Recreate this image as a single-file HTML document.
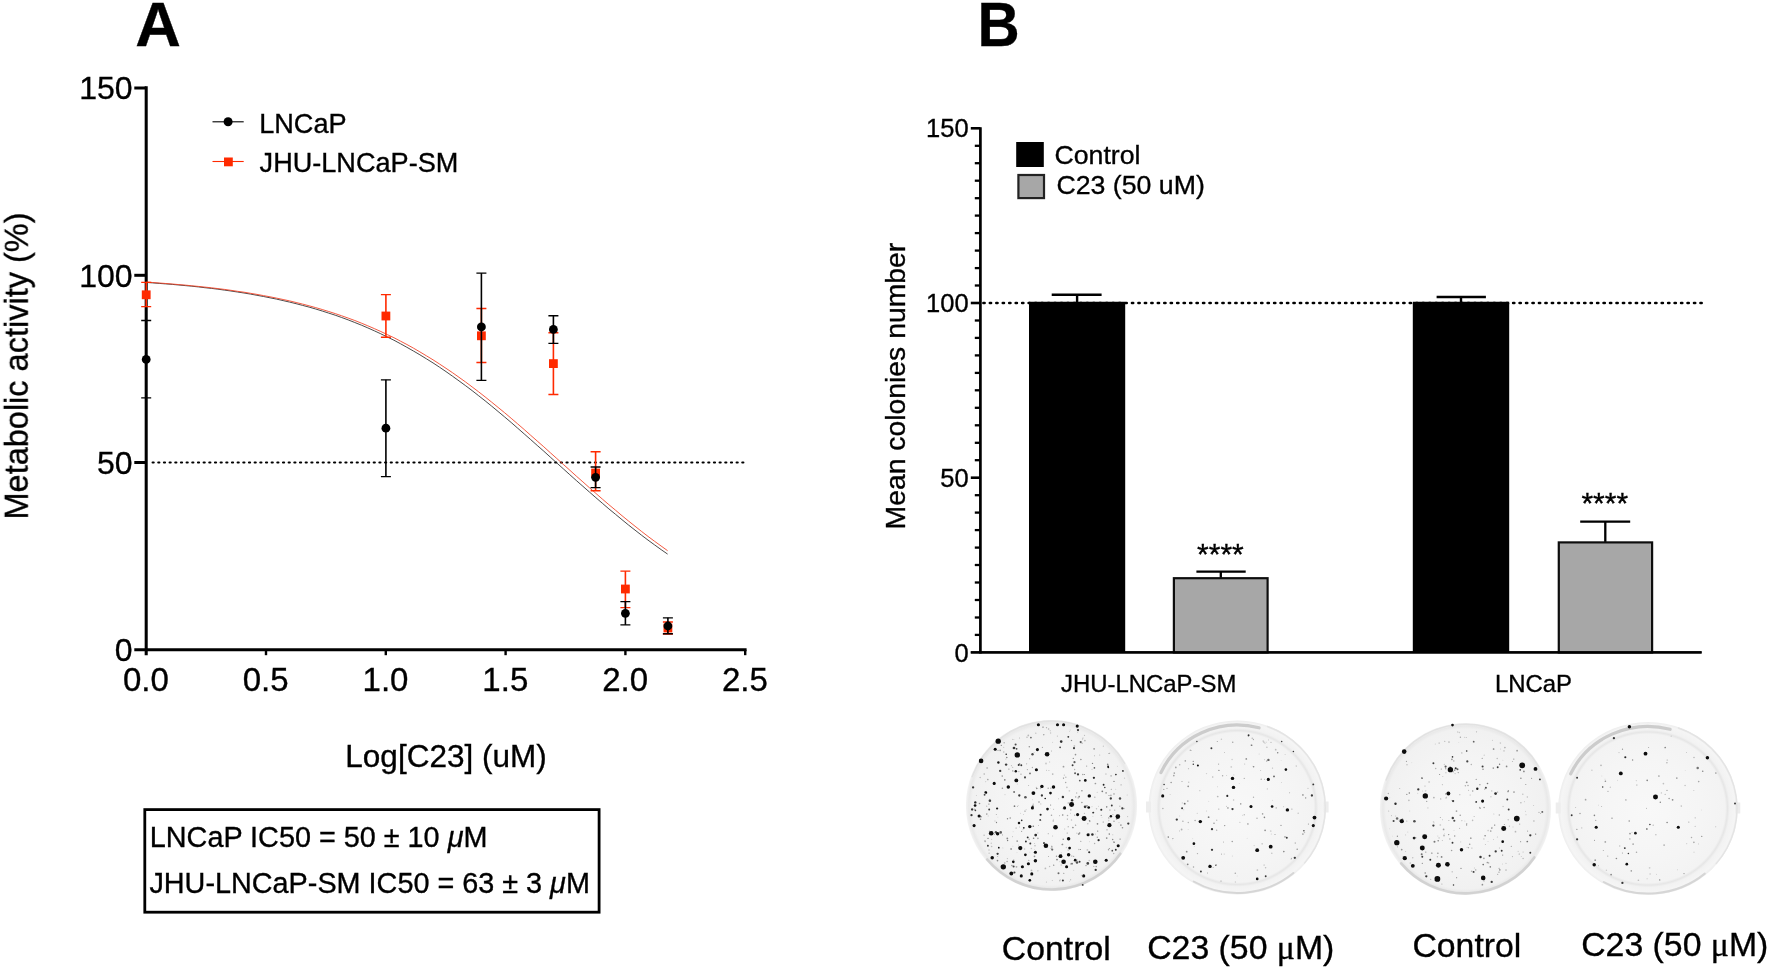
<!DOCTYPE html>
<html lang="en"><head><meta charset="utf-8"><title>Figure</title>
<style>html,body{margin:0;padding:0;background:#fff;}svg{display:block}text{fill:#000;stroke:#000;stroke-width:0.35px}</style></head>
<body>
<svg width="1770" height="970" viewBox="0 0 1770 970">
<rect width="1770" height="970" fill="#fff"/>
<g filter="url(#soft)">
<text x="135.3" y="46.3" font-size="63.2" font-weight="bold" stroke="#000" stroke-width="1" font-family="Liberation Sans, Arial, Helvetica, sans-serif">A</text>
<text transform="translate(977.6,46.3) scale(0.925,1)" font-size="63.2" font-weight="bold" stroke="#000" stroke-width="1" font-family="Liberation Sans, Arial, Helvetica, sans-serif">B</text>
<path d="M146.2 86.3 V655.2" stroke="#000" stroke-width="3.05" fill="none"/>
<path d="M134.3 649.8 H746.6" stroke="#000" stroke-width="3.0" fill="none"/>
<path d="M134.3 462.5 H146.2" stroke="#000" stroke-width="3.0"/>
<path d="M134.3 275.3 H146.2" stroke="#000" stroke-width="3.0"/>
<path d="M134.3 88.0 H146.2" stroke="#000" stroke-width="3.0"/>
<path d="M266.0 649.8 V655.2" stroke="#000" stroke-width="2.4"/>
<path d="M385.8 649.8 V655.2" stroke="#000" stroke-width="2.4"/>
<path d="M505.6 649.8 V655.2" stroke="#000" stroke-width="2.4"/>
<path d="M625.4 649.8 V655.2" stroke="#000" stroke-width="2.4"/>
<path d="M745.2 649.8 V655.2" stroke="#000" stroke-width="2.4"/>
<text x="132.6" y="661.2" font-size="32" text-anchor="end" font-family="Liberation Sans, Arial, Helvetica, sans-serif">0</text>
<text x="132.6" y="473.9" font-size="32" text-anchor="end" font-family="Liberation Sans, Arial, Helvetica, sans-serif">50</text>
<text x="132.6" y="286.7" font-size="32" text-anchor="end" font-family="Liberation Sans, Arial, Helvetica, sans-serif">100</text>
<text x="132.6" y="99.4" font-size="32" text-anchor="end" font-family="Liberation Sans, Arial, Helvetica, sans-serif">150</text>
<text x="145.9" y="691.0" font-size="33" text-anchor="middle" font-family="Liberation Sans, Arial, Helvetica, sans-serif">0.0</text>
<text x="265.7" y="691.0" font-size="33" text-anchor="middle" font-family="Liberation Sans, Arial, Helvetica, sans-serif">0.5</text>
<text x="385.5" y="691.0" font-size="33" text-anchor="middle" font-family="Liberation Sans, Arial, Helvetica, sans-serif">1.0</text>
<text x="505.3" y="691.0" font-size="33" text-anchor="middle" font-family="Liberation Sans, Arial, Helvetica, sans-serif">1.5</text>
<text x="625.1" y="691.0" font-size="33" text-anchor="middle" font-family="Liberation Sans, Arial, Helvetica, sans-serif">2.0</text>
<text x="744.9" y="691.0" font-size="33" text-anchor="middle" font-family="Liberation Sans, Arial, Helvetica, sans-serif">2.5</text>
<text transform="translate(27.8,366) rotate(-90)" font-size="32.5" text-anchor="middle" font-family="Liberation Sans, Arial, Helvetica, sans-serif">Metabolic activity (%)</text>
<text x="446" y="766.6" font-size="31.5" text-anchor="middle" font-family="Liberation Sans, Arial, Helvetica, sans-serif">Log[C23] (uM)</text>
<path d="M149.2 462.5 H746" stroke="#000" stroke-width="2.15" stroke-dasharray="1.1 4.57" stroke-dashoffset="-3.4" stroke-linecap="round" fill="none"/>
<path d="M146.2 282.4 L152.7 282.9 L159.2 283.4 L165.8 283.9 L172.3 284.4 L178.8 285.0 L185.3 285.6 L191.8 286.2 L198.3 286.9 L204.9 287.7 L211.4 288.4 L217.9 289.2 L224.4 290.1 L230.9 291.0 L237.4 292.0 L244.0 293.0 L250.5 294.1 L257.0 295.3 L263.5 296.5 L270.0 297.8 L276.5 299.1 L283.1 300.6 L289.6 302.1 L296.1 303.7 L302.6 305.4 L309.1 307.1 L315.7 309.0 L322.2 311.0 L328.7 313.1 L335.2 315.2 L341.7 317.5 L348.2 319.9 L354.8 322.5 L361.3 325.1 L367.8 327.9 L374.3 330.8 L380.8 333.8 L387.3 337.0 L393.9 340.2 L400.4 343.7 L406.9 347.3 L413.4 351.0 L419.9 354.8 L426.4 358.8 L433.0 362.9 L439.5 367.2 L446.0 371.6 L452.5 376.2 L459.0 380.9 L465.6 385.7 L472.1 390.6 L478.6 395.7 L485.1 400.8 L491.6 406.1 L498.1 411.5 L504.7 417.0 L511.2 422.5 L517.7 428.2 L524.2 433.9 L530.7 439.6 L537.2 445.4 L543.8 451.2 L550.3 457.1 L556.8 463.0 L563.3 468.8 L569.8 474.7 L576.3 480.5 L582.9 486.3 L589.4 492.0 L595.9 497.7 L602.4 503.3 L608.9 508.9 L615.5 514.3 L622.0 519.7 L628.5 525.0 L635.0 530.1 L641.5 535.2 L648.0 540.1 L654.6 544.9 L661.1 549.6 L667.6 554.1" stroke="#2a2a2a" stroke-width="0.85" fill="none"/>
<path d="M146.2 282.1 L152.7 282.5 L159.2 283.0 L165.8 283.5 L172.3 284.0 L178.8 284.6 L185.3 285.1 L191.8 285.8 L198.3 286.4 L204.9 287.1 L211.4 287.8 L217.9 288.6 L224.4 289.4 L230.9 290.3 L237.4 291.3 L244.0 292.2 L250.5 293.3 L257.0 294.4 L263.5 295.6 L270.0 296.8 L276.5 298.1 L283.1 299.5 L289.6 300.9 L296.1 302.5 L302.6 304.1 L309.1 305.8 L315.7 307.6 L322.2 309.5 L328.7 311.5 L335.2 313.6 L341.7 315.8 L348.2 318.1 L354.8 320.5 L361.3 323.1 L367.8 325.8 L374.3 328.6 L380.8 331.5 L387.3 334.6 L393.9 337.7 L400.4 341.1 L406.9 344.5 L413.4 348.1 L419.9 351.9 L426.4 355.8 L433.0 359.8 L439.5 364.0 L446.0 368.3 L452.5 372.7 L459.0 377.3 L465.6 382.0 L472.1 386.9 L478.6 391.8 L485.1 396.9 L491.6 402.1 L498.1 407.4 L504.7 412.8 L511.2 418.3 L517.7 423.9 L524.2 429.5 L530.7 435.3 L537.2 441.0 L543.8 446.8 L550.3 452.7 L556.8 458.5 L563.3 464.4 L569.8 470.2 L576.3 476.1 L582.9 481.9 L589.4 487.7 L595.9 493.4 L602.4 499.1 L608.9 504.7 L615.5 510.2 L622.0 515.7 L628.5 521.0 L635.0 526.2 L641.5 531.4 L648.0 536.4 L654.6 541.3 L661.1 546.0 L667.6 550.7" stroke="#f23c20" stroke-width="0.85" fill="none"/>
<path d="M146.2 282.3 V306.6" stroke="#ff2a00" stroke-width="1.6" fill="none"/><path d="M141.2 282.3 H151.2 M141.2 306.6 H151.2" stroke="#ff2a00" stroke-width="1.35" fill="none"/>
<rect x="141.8" y="290.4" width="8.8" height="8.8" fill="#ff2a00"/>
<path d="M385.9 294.6 V337.2" stroke="#ff2a00" stroke-width="1.6" fill="none"/><path d="M380.9 294.6 H390.9 M380.9 337.2 H390.9" stroke="#ff2a00" stroke-width="1.35" fill="none"/>
<rect x="381.5" y="311.6" width="8.8" height="8.8" fill="#ff2a00"/>
<path d="M481.4 308.5 V362.5" stroke="#ff2a00" stroke-width="1.6" fill="none"/><path d="M476.4 308.5 H486.4 M476.4 362.5 H486.4" stroke="#ff2a00" stroke-width="1.35" fill="none"/>
<rect x="477.0" y="331.4" width="8.8" height="8.8" fill="#ff2a00"/>
<path d="M553.4 332.7 V394.5" stroke="#ff2a00" stroke-width="1.6" fill="none"/><path d="M548.4 332.7 H558.4 M548.4 394.5 H558.4" stroke="#ff2a00" stroke-width="1.35" fill="none"/>
<rect x="549.0" y="359.2" width="8.8" height="8.8" fill="#ff2a00"/>
<path d="M595.6 451.7 V490.7" stroke="#ff2a00" stroke-width="1.6" fill="none"/><path d="M590.6 451.7 H600.6 M590.6 490.7 H600.6" stroke="#ff2a00" stroke-width="1.35" fill="none"/>
<rect x="591.2" y="468.6" width="8.8" height="8.8" fill="#ff2a00"/>
<path d="M625.4 571.1 V607.6" stroke="#ff2a00" stroke-width="1.6" fill="none"/><path d="M620.4 571.1 H630.4 M620.4 607.6 H630.4" stroke="#ff2a00" stroke-width="1.35" fill="none"/>
<rect x="621.0" y="584.6" width="8.8" height="8.8" fill="#ff2a00"/>
<path d="M667.9 622.0 V634.0" stroke="#ff2a00" stroke-width="1.6" fill="none"/><path d="M662.9 622.0 H672.9 M662.9 634.0 H672.9" stroke="#ff2a00" stroke-width="1.35" fill="none"/>
<rect x="663.5" y="623.6" width="8.8" height="8.8" fill="#ff2a00"/>
<path d="M146.2 320.5 V397.9" stroke="#000" stroke-width="1.6" fill="none"/><path d="M141.2 320.5 H151.2 M141.2 397.9 H151.2" stroke="#000" stroke-width="1.35" fill="none"/>
<circle cx="146.2" cy="359.4" r="4.4" fill="#000"/>
<path d="M385.9 379.8 V476.6" stroke="#000" stroke-width="1.6" fill="none"/><path d="M380.9 379.8 H390.9 M380.9 476.6 H390.9" stroke="#000" stroke-width="1.35" fill="none"/>
<circle cx="385.9" cy="428.2" r="4.4" fill="#000"/>
<path d="M481.4 273.1 V380.3" stroke="#000" stroke-width="1.6" fill="none"/><path d="M476.4 273.1 H486.4 M476.4 380.3 H486.4" stroke="#000" stroke-width="1.35" fill="none"/>
<circle cx="481.4" cy="326.9" r="4.4" fill="#000"/>
<path d="M553.4 315.7 V343.3" stroke="#000" stroke-width="1.6" fill="none"/><path d="M548.4 315.7 H558.4 M548.4 343.3 H558.4" stroke="#000" stroke-width="1.35" fill="none"/>
<circle cx="553.4" cy="329.4" r="4.4" fill="#000"/>
<path d="M595.6 467.0 V487.6" stroke="#000" stroke-width="1.6" fill="none"/><path d="M590.6 467.0 H600.6 M590.6 487.6 H600.6" stroke="#000" stroke-width="1.35" fill="none"/>
<circle cx="595.6" cy="477.3" r="4.4" fill="#000"/>
<path d="M625.4 601.6 V624.9" stroke="#000" stroke-width="1.6" fill="none"/><path d="M620.4 601.6 H630.4 M620.4 624.9 H630.4" stroke="#000" stroke-width="1.35" fill="none"/>
<circle cx="625.4" cy="613.3" r="4.4" fill="#000"/>
<path d="M667.9 617.8 V633.7" stroke="#000" stroke-width="1.6" fill="none"/><path d="M662.9 617.8 H672.9 M662.9 633.7 H672.9" stroke="#000" stroke-width="1.35" fill="none"/>
<circle cx="667.9" cy="626.0" r="4.4" fill="#000"/>
<path d="M212.5 121.8 H243.7" stroke="#000" stroke-width="1.1"/><circle cx="228.1" cy="121.8" r="4.5" fill="#000"/>
<path d="M212.5 161.5 H243.7" stroke="#ff2a00" stroke-width="1.1"/><rect x="224" y="157.5" width="8.8" height="8.8" fill="#ff2a00"/>
<text x="259.2" y="132.9" font-size="27.1" font-family="Liberation Sans, Arial, Helvetica, sans-serif">LNCaP</text>
<text x="259.6" y="172.2" font-size="27.1" font-family="Liberation Sans, Arial, Helvetica, sans-serif">JHU-LNCaP-SM</text>
<rect x="144.8" y="809.6" width="454.3" height="102.6" fill="none" stroke="#000" stroke-width="2.8"/>
<text x="149.8" y="847.4" font-size="28.8" font-family="Liberation Sans, Arial, Helvetica, sans-serif">LNCaP IC50 = 50 ± 10 <tspan font-style="italic">μ</tspan>M</text>
<text x="149.4" y="893.2" font-size="28.8" font-family="Liberation Sans, Arial, Helvetica, sans-serif">JHU-LNCaP-SM IC50 = 63 ± 3 <tspan font-style="italic">μ</tspan>M</text>
<path d="M980.4 127.2 V653.6" stroke="#000" stroke-width="2.7" fill="none"/>
<path d="M970.8 652.4 H1701.6" stroke="#000" stroke-width="2.4" fill="none"/>
<path d="M974.8 634.9 H980.4" stroke="#000" stroke-width="2.3"/>
<path d="M974.8 617.5 H980.4" stroke="#000" stroke-width="2.3"/>
<path d="M974.8 600.0 H980.4" stroke="#000" stroke-width="2.3"/>
<path d="M974.8 582.5 H980.4" stroke="#000" stroke-width="2.3"/>
<path d="M974.8 565.0 H980.4" stroke="#000" stroke-width="2.3"/>
<path d="M974.8 547.6 H980.4" stroke="#000" stroke-width="2.3"/>
<path d="M974.8 530.1 H980.4" stroke="#000" stroke-width="2.3"/>
<path d="M974.8 512.6 H980.4" stroke="#000" stroke-width="2.3"/>
<path d="M974.8 495.2 H980.4" stroke="#000" stroke-width="2.3"/>
<path d="M970.8 477.7 H980.4" stroke="#000" stroke-width="2.6"/>
<path d="M974.8 460.2 H980.4" stroke="#000" stroke-width="2.3"/>
<path d="M974.8 442.8 H980.4" stroke="#000" stroke-width="2.3"/>
<path d="M974.8 425.3 H980.4" stroke="#000" stroke-width="2.3"/>
<path d="M974.8 407.8 H980.4" stroke="#000" stroke-width="2.3"/>
<path d="M974.8 390.3 H980.4" stroke="#000" stroke-width="2.3"/>
<path d="M974.8 372.9 H980.4" stroke="#000" stroke-width="2.3"/>
<path d="M974.8 355.4 H980.4" stroke="#000" stroke-width="2.3"/>
<path d="M974.8 337.9 H980.4" stroke="#000" stroke-width="2.3"/>
<path d="M974.8 320.5 H980.4" stroke="#000" stroke-width="2.3"/>
<path d="M970.8 303.0 H980.4" stroke="#000" stroke-width="2.6"/>
<path d="M974.8 285.5 H980.4" stroke="#000" stroke-width="2.3"/>
<path d="M974.8 268.1 H980.4" stroke="#000" stroke-width="2.3"/>
<path d="M974.8 250.6 H980.4" stroke="#000" stroke-width="2.3"/>
<path d="M974.8 233.1 H980.4" stroke="#000" stroke-width="2.3"/>
<path d="M974.8 215.6 H980.4" stroke="#000" stroke-width="2.3"/>
<path d="M974.8 198.2 H980.4" stroke="#000" stroke-width="2.3"/>
<path d="M974.8 180.7 H980.4" stroke="#000" stroke-width="2.3"/>
<path d="M974.8 163.2 H980.4" stroke="#000" stroke-width="2.3"/>
<path d="M974.8 145.8 H980.4" stroke="#000" stroke-width="2.3"/>
<path d="M970.8 128.3 H980.4" stroke="#000" stroke-width="2.6"/>
<text x="968.6" y="661.5" font-size="25.5" text-anchor="end" font-family="Liberation Sans, Arial, Helvetica, sans-serif">0</text>
<text x="968.6" y="486.8" font-size="25.5" text-anchor="end" font-family="Liberation Sans, Arial, Helvetica, sans-serif">50</text>
<text x="968.6" y="312.1" font-size="25.5" text-anchor="end" font-family="Liberation Sans, Arial, Helvetica, sans-serif">100</text>
<text x="968.6" y="137.4" font-size="25.5" text-anchor="end" font-family="Liberation Sans, Arial, Helvetica, sans-serif">150</text>
<text transform="translate(904.9,386.1) rotate(-90)" font-size="28.35" text-anchor="middle" font-family="Liberation Sans, Arial, Helvetica, sans-serif">Mean colonies number</text>
<rect x="1029" y="303.0" width="96.2" height="349.4" fill="#000"/>
<rect x="1412.8" y="303.0" width="96.4" height="349.4" fill="#000"/>
<path d="M1077.1 294.8 V304 M1051.7 294.8 H1101.6" stroke="#000" stroke-width="2.4" fill="none"/>
<path d="M1461 297 V304 M1436.6 297 H1485.9" stroke="#000" stroke-width="2.4" fill="none"/>
<path d="M1220.8 571.6 V578 M1196.4 571.6 H1245.7" stroke="#000" stroke-width="2.3" fill="none"/>
<path d="M1605.3 521.6 V542 M1580.2 521.6 H1630.2" stroke="#000" stroke-width="2.3" fill="none"/>
<rect x="1173.9" y="578.2" width="93.7" height="74.2" fill="#a7a7a7" stroke="#111" stroke-width="2.2"/>
<rect x="1558.8" y="542.4" width="93.3" height="110.0" fill="#a7a7a7" stroke="#111" stroke-width="2.2"/>
<path d="M970.8 652.4 H1701.6" stroke="#000" stroke-width="2.4" fill="none"/>
<path d="M983.4 303.0 H1702" stroke="#000" stroke-width="2.6" stroke-dasharray="1.2 5.26" stroke-linecap="round" fill="none"/>
<path d="M1029 303.0 H1125.2 M1412.8 303.0 H1509.2" stroke="#000" stroke-width="2.6"/>
<text x="1220.4" y="564.2" font-size="30" text-anchor="middle" font-family="Liberation Sans, Arial, Helvetica, sans-serif">****</text>
<text x="1604.8" y="513.1" font-size="30" text-anchor="middle" font-family="Liberation Sans, Arial, Helvetica, sans-serif">****</text>
<text x="1148.7" y="692.4" font-size="23.9" text-anchor="middle" font-family="Liberation Sans, Arial, Helvetica, sans-serif">JHU-LNCaP-SM</text>
<text x="1533.4" y="692.4" font-size="23.9" text-anchor="middle" font-family="Liberation Sans, Arial, Helvetica, sans-serif">LNCaP</text>
<rect x="1016.2" y="142" width="27.6" height="25" fill="#000"/>
<rect x="1018.4" y="175" width="25.6" height="23.1" fill="#a7a7a7" stroke="#222" stroke-width="2.2"/>
<text x="1054.5" y="164.2" font-size="26.7" font-family="Liberation Sans, Arial, Helvetica, sans-serif">Control</text>
<text x="1056.5" y="194.4" font-size="26.7" font-family="Liberation Sans, Arial, Helvetica, sans-serif">C23 (50 uM)</text>
<text x="1001.8" y="959.6" font-size="33.8" font-family="Liberation Sans, Arial, Helvetica, sans-serif">Control</text>
<text x="1147.2" y="958.6" font-size="33.8" font-family="Liberation Sans, Arial, Helvetica, sans-serif">C23 (50 <tspan font-family="Liberation Serif, serif">μ</tspan>M)</text>
<text x="1412.4" y="957" font-size="33.8" font-family="Liberation Sans, Arial, Helvetica, sans-serif">Control</text>
<text x="1581.2" y="956.4" font-size="33.8" font-family="Liberation Sans, Arial, Helvetica, sans-serif">C23 (50 <tspan font-family="Liberation Serif, serif">μ</tspan>M)</text>
<defs>
<filter id="soft" x="0" y="0" width="1770" height="970" filterUnits="userSpaceOnUse"><feGaussianBlur stdDeviation="0.45"/></filter>
<filter id="blur" x="-5%" y="-5%" width="110%" height="110%"><feGaussianBlur stdDeviation="0.55"/></filter>
<radialGradient id="gplain" cx="50%" cy="50%" r="50%"><stop offset="0" stop-color="#f7f7f7"/><stop offset="0.6" stop-color="#f4f4f4"/><stop offset="0.93" stop-color="#f1f1f1"/><stop offset="0.965" stop-color="#e9e9e9"/><stop offset="1" stop-color="#f3f3f3"/></radialGradient>
<radialGradient id="glid" cx="50%" cy="50%" r="50%"><stop offset="0" stop-color="#f8f8f8"/><stop offset="0.6" stop-color="#f5f5f5"/><stop offset="0.86" stop-color="#f3f3f3"/><stop offset="0.885" stop-color="#e6e6e6"/><stop offset="0.91" stop-color="#f2f2f2"/><stop offset="0.97" stop-color="#f5f5f5"/><stop offset="1" stop-color="#ededed"/></radialGradient>
</defs>
<g filter="url(#blur)"><ellipse cx="1051.5" cy="805.5" rx="85.6" ry="85.6" fill="url(#gplain)"/>
<path d="M1120.3 853.7 A84.0 84.0 0 0 1 987.2 859.5" fill="none" stroke="#d2d2d2" stroke-width="2.6" stroke-linecap="round" opacity="1"/>
<path d="M972.2 776.6 A84.4 84.4 0 0 1 1124.6 763.3" fill="none" stroke="#e2e2e2" stroke-width="1.6" stroke-linecap="round" opacity="1"/>
<circle cx="1037.8" cy="832.9" r="0.73" fill="#000" opacity="0.18"/>
<circle cx="1005.0" cy="794.8" r="0.43" fill="#000" opacity="0.33"/>
<circle cx="1102.0" cy="817.6" r="0.43" fill="#000" opacity="0.18"/>
<circle cx="987.7" cy="838.3" r="0.46" fill="#000" opacity="0.23"/>
<circle cx="998.0" cy="750.4" r="0.69" fill="#000" opacity="0.29"/>
<circle cx="1068.3" cy="803.0" r="0.83" fill="#000" opacity="0.25"/>
<circle cx="1068.2" cy="826.8" r="0.55" fill="#000" opacity="0.44"/>
<circle cx="1076.9" cy="860.0" r="0.72" fill="#000" opacity="0.28"/>
<circle cx="1032.6" cy="799.7" r="0.43" fill="#000" opacity="0.22"/>
<circle cx="1029.7" cy="758.8" r="0.56" fill="#000" opacity="0.35"/>
<circle cx="1010.2" cy="818.0" r="0.80" fill="#000" opacity="0.39"/>
<circle cx="1053.7" cy="865.2" r="0.66" fill="#000" opacity="0.46"/>
<circle cx="1046.0" cy="763.5" r="0.89" fill="#000" opacity="0.19"/>
<circle cx="991.7" cy="839.3" r="0.48" fill="#000" opacity="0.32"/>
<circle cx="1114.0" cy="821.2" r="0.78" fill="#000" opacity="0.35"/>
<circle cx="1082.8" cy="774.4" r="0.75" fill="#000" opacity="0.36"/>
<circle cx="1004.8" cy="779.9" r="0.82" fill="#000" opacity="0.48"/>
<circle cx="988.1" cy="815.9" r="0.43" fill="#000" opacity="0.40"/>
<circle cx="1004.2" cy="742.7" r="0.81" fill="#000" opacity="0.25"/>
<circle cx="1002.9" cy="847.9" r="0.41" fill="#000" opacity="0.31"/>
<circle cx="1064.8" cy="829.0" r="0.43" fill="#000" opacity="0.42"/>
<circle cx="1078.5" cy="834.0" r="0.60" fill="#000" opacity="0.45"/>
<circle cx="1097.7" cy="831.1" r="0.67" fill="#000" opacity="0.46"/>
<circle cx="1082.4" cy="739.0" r="0.54" fill="#000" opacity="0.30"/>
<circle cx="1004.7" cy="863.0" r="0.88" fill="#000" opacity="0.20"/>
<circle cx="1068.5" cy="839.5" r="0.52" fill="#000" opacity="0.32"/>
<circle cx="1017.2" cy="784.0" r="0.40" fill="#000" opacity="0.30"/>
<circle cx="1011.1" cy="849.0" r="0.88" fill="#000" opacity="0.39"/>
<circle cx="989.8" cy="799.5" r="0.74" fill="#000" opacity="0.17"/>
<circle cx="1107.7" cy="764.4" r="0.84" fill="#000" opacity="0.43"/>
<circle cx="1012.6" cy="836.7" r="0.45" fill="#000" opacity="0.37"/>
<circle cx="1070.4" cy="813.3" r="0.50" fill="#000" opacity="0.21"/>
<circle cx="1041.8" cy="820.8" r="0.40" fill="#000" opacity="0.20"/>
<circle cx="1089.7" cy="833.8" r="0.41" fill="#000" opacity="0.46"/>
<circle cx="1028.6" cy="785.5" r="0.53" fill="#000" opacity="0.27"/>
<circle cx="1033.3" cy="826.3" r="0.82" fill="#000" opacity="0.50"/>
<circle cx="997.9" cy="817.1" r="0.44" fill="#000" opacity="0.19"/>
<circle cx="1029.2" cy="839.4" r="0.81" fill="#000" opacity="0.21"/>
<circle cx="1127.6" cy="816.6" r="0.66" fill="#000" opacity="0.20"/>
<circle cx="1039.0" cy="802.0" r="0.66" fill="#000" opacity="0.49"/>
<circle cx="1094.5" cy="755.7" r="0.53" fill="#000" opacity="0.28"/>
<circle cx="1086.0" cy="865.6" r="0.67" fill="#000" opacity="0.42"/>
<circle cx="1033.6" cy="838.2" r="0.81" fill="#000" opacity="0.49"/>
<circle cx="1094.1" cy="748.9" r="0.81" fill="#000" opacity="0.41"/>
<circle cx="1059.8" cy="861.6" r="0.58" fill="#000" opacity="0.16"/>
<circle cx="1092.6" cy="812.8" r="0.53" fill="#000" opacity="0.39"/>
<circle cx="1102.3" cy="791.3" r="0.87" fill="#000" opacity="0.50"/>
<circle cx="1097.2" cy="792.2" r="0.51" fill="#000" opacity="0.23"/>
<circle cx="1063.2" cy="839.2" r="0.71" fill="#000" opacity="0.47"/>
<circle cx="1080.9" cy="759.5" r="0.73" fill="#000" opacity="0.43"/>
<circle cx="1106.7" cy="838.1" r="0.85" fill="#000" opacity="0.42"/>
<circle cx="1051.5" cy="751.0" r="0.49" fill="#000" opacity="0.43"/>
<circle cx="1016.5" cy="866.8" r="0.89" fill="#000" opacity="0.29"/>
<circle cx="989.0" cy="850.1" r="0.76" fill="#000" opacity="0.21"/>
<circle cx="1072.9" cy="827.5" r="0.85" fill="#000" opacity="0.43"/>
<circle cx="1095.0" cy="862.5" r="0.89" fill="#000" opacity="0.38"/>
<circle cx="1017.0" cy="852.7" r="0.47" fill="#000" opacity="0.15"/>
<circle cx="1114.0" cy="793.9" r="0.66" fill="#000" opacity="0.48"/>
<circle cx="984.1" cy="835.3" r="0.81" fill="#000" opacity="0.22"/>
<circle cx="1051.0" cy="848.2" r="0.52" fill="#000" opacity="0.36"/>
<circle cx="1048.5" cy="856.5" r="0.47" fill="#000" opacity="0.47"/>
<circle cx="1019.1" cy="847.9" r="0.69" fill="#000" opacity="0.47"/>
<circle cx="985.1" cy="841.6" r="0.65" fill="#000" opacity="0.34"/>
<circle cx="1040.8" cy="803.9" r="0.62" fill="#000" opacity="0.21"/>
<circle cx="1122.0" cy="807.2" r="0.49" fill="#000" opacity="0.32"/>
<circle cx="1042.4" cy="747.4" r="0.56" fill="#000" opacity="0.33"/>
<circle cx="985.8" cy="781.7" r="0.45" fill="#000" opacity="0.35"/>
<circle cx="1051.9" cy="847.0" r="0.79" fill="#000" opacity="0.33"/>
<circle cx="987.8" cy="779.5" r="0.86" fill="#000" opacity="0.31"/>
<circle cx="1008.9" cy="769.1" r="0.66" fill="#000" opacity="0.39"/>
<circle cx="996.5" cy="822.5" r="0.64" fill="#000" opacity="0.48"/>
<circle cx="1028.3" cy="735.4" r="0.87" fill="#000" opacity="0.24"/>
<circle cx="980.2" cy="777.5" r="0.82" fill="#000" opacity="0.20"/>
<circle cx="1089.4" cy="841.8" r="0.44" fill="#000" opacity="0.23"/>
<circle cx="1109.3" cy="834.1" r="0.79" fill="#000" opacity="0.46"/>
<circle cx="1089.2" cy="860.6" r="0.73" fill="#000" opacity="0.20"/>
<circle cx="1109.0" cy="753.4" r="0.51" fill="#000" opacity="0.48"/>
<circle cx="1007.3" cy="838.4" r="0.89" fill="#000" opacity="0.44"/>
<circle cx="1078.9" cy="849.5" r="0.66" fill="#000" opacity="0.27"/>
<circle cx="1066.4" cy="847.5" r="0.76" fill="#000" opacity="0.16"/>
<circle cx="1002.1" cy="788.1" r="0.41" fill="#000" opacity="0.27"/>
<circle cx="1011.3" cy="765.8" r="0.43" fill="#000" opacity="0.49"/>
<circle cx="1070.1" cy="730.0" r="0.45" fill="#000" opacity="0.24"/>
<circle cx="1119.0" cy="822.6" r="0.54" fill="#000" opacity="0.20"/>
<circle cx="985.0" cy="840.8" r="0.81" fill="#000" opacity="0.24"/>
<circle cx="1096.2" cy="866.5" r="0.69" fill="#000" opacity="0.40"/>
<circle cx="1067.5" cy="815.6" r="0.74" fill="#000" opacity="0.30"/>
<circle cx="1120.1" cy="839.1" r="0.72" fill="#000" opacity="0.43"/>
<circle cx="1114.6" cy="842.2" r="0.43" fill="#000" opacity="0.45"/>
<circle cx="1007.5" cy="818.7" r="0.68" fill="#000" opacity="0.47"/>
<circle cx="1048.3" cy="833.7" r="0.66" fill="#000" opacity="0.23"/>
<circle cx="1076.0" cy="825.6" r="0.43" fill="#000" opacity="0.22"/>
<circle cx="1035.0" cy="845.8" r="0.78" fill="#000" opacity="0.25"/>
<circle cx="1018.2" cy="805.5" r="0.57" fill="#000" opacity="0.16"/>
<circle cx="1051.5" cy="815.3" r="0.77" fill="#000" opacity="0.34"/>
<circle cx="1071.7" cy="856.0" r="0.87" fill="#000" opacity="0.19"/>
<circle cx="1073.3" cy="758.4" r="0.65" fill="#000" opacity="0.44"/>
<circle cx="1007.6" cy="840.4" r="0.74" fill="#000" opacity="0.49"/>
<circle cx="1011.9" cy="865.6" r="0.75" fill="#000" opacity="0.37"/>
<circle cx="1013.1" cy="831.7" r="0.43" fill="#000" opacity="0.20"/>
<circle cx="1112.8" cy="834.7" r="0.53" fill="#000" opacity="0.21"/>
<circle cx="1113.9" cy="842.1" r="0.84" fill="#000" opacity="0.38"/>
<circle cx="1043.8" cy="843.5" r="0.55" fill="#000" opacity="0.31"/>
<circle cx="1080.4" cy="849.5" r="0.53" fill="#000" opacity="0.49"/>
<circle cx="1109.0" cy="795.5" r="0.52" fill="#000" opacity="0.49"/>
<circle cx="1034.3" cy="849.3" r="0.40" fill="#000" opacity="0.28"/>
<circle cx="996.3" cy="814.4" r="0.50" fill="#000" opacity="0.33"/>
<circle cx="1092.0" cy="806.8" r="0.44" fill="#000" opacity="0.29"/>
<circle cx="1062.9" cy="808.6" r="0.55" fill="#000" opacity="0.23"/>
<circle cx="1002.2" cy="776.1" r="0.78" fill="#000" opacity="0.38"/>
<circle cx="1035.8" cy="733.2" r="0.59" fill="#000" opacity="0.26"/>
<circle cx="1081.9" cy="802.6" r="0.76" fill="#000" opacity="0.38"/>
<circle cx="1120.9" cy="825.1" r="0.85" fill="#000" opacity="0.37"/>
<circle cx="1044.3" cy="734.8" r="0.47" fill="#000" opacity="0.33"/>
<circle cx="979.5" cy="803.5" r="0.80" fill="#000" opacity="0.44"/>
<circle cx="987.1" cy="767.9" r="0.74" fill="#000" opacity="0.39"/>
<circle cx="1053.3" cy="819.3" r="0.47" fill="#000" opacity="0.28"/>
<circle cx="1108.5" cy="849.7" r="0.68" fill="#000" opacity="0.37"/>
<circle cx="1005.8" cy="759.1" r="0.64" fill="#000" opacity="0.15"/>
<circle cx="1071.6" cy="740.3" r="0.65" fill="#000" opacity="0.34"/>
<circle cx="1040.6" cy="788.4" r="0.77" fill="#000" opacity="0.24"/>
<circle cx="1087.8" cy="823.8" r="0.76" fill="#000" opacity="0.22"/>
<circle cx="1046.5" cy="727.7" r="0.65" fill="#000" opacity="0.28"/>
<circle cx="986.8" cy="814.1" r="0.78" fill="#000" opacity="0.37"/>
<circle cx="1037.8" cy="788.3" r="0.47" fill="#000" opacity="0.24"/>
<circle cx="1049.6" cy="762.0" r="0.68" fill="#000" opacity="0.15"/>
<circle cx="1089.5" cy="820.7" r="0.74" fill="#000" opacity="0.39"/>
<circle cx="1032.4" cy="767.5" r="0.66" fill="#000" opacity="0.31"/>
<circle cx="1025.0" cy="811.2" r="0.85" fill="#000" opacity="0.22"/>
<circle cx="1127.1" cy="795.0" r="0.41" fill="#000" opacity="0.31"/>
<circle cx="1084.5" cy="735.3" r="0.62" fill="#000" opacity="0.24"/>
<circle cx="1070.7" cy="879.8" r="0.51" fill="#000" opacity="0.35"/>
<circle cx="1087.4" cy="849.9" r="0.88" fill="#000" opacity="0.20"/>
<circle cx="1075.5" cy="754.6" r="0.84" fill="#000" opacity="0.40"/>
<circle cx="1060.2" cy="879.7" r="0.64" fill="#000" opacity="0.16"/>
<circle cx="1106.8" cy="806.7" r="0.63" fill="#000" opacity="0.26"/>
<circle cx="1080.8" cy="841.3" r="0.56" fill="#000" opacity="0.44"/>
<circle cx="1119.8" cy="806.2" r="0.82" fill="#000" opacity="0.19"/>
<circle cx="1111.1" cy="775.8" r="0.85" fill="#000" opacity="0.25"/>
<circle cx="1017.2" cy="841.1" r="0.90" fill="#000" opacity="0.36"/>
<circle cx="1018.4" cy="845.1" r="0.54" fill="#000" opacity="0.17"/>
<circle cx="1109.3" cy="848.5" r="0.54" fill="#000" opacity="0.48"/>
<circle cx="1051.7" cy="846.2" r="0.66" fill="#000" opacity="0.22"/>
<circle cx="997.5" cy="860.6" r="0.84" fill="#000" opacity="0.43"/>
<circle cx="1000.2" cy="750.3" r="0.87" fill="#000" opacity="0.34"/>
<circle cx="1048.2" cy="788.3" r="0.77" fill="#000" opacity="0.31"/>
<circle cx="1052.6" cy="742.2" r="0.54" fill="#000" opacity="0.17"/>
<circle cx="1076.7" cy="793.0" r="0.64" fill="#000" opacity="0.27"/>
<circle cx="1031.5" cy="870.3" r="0.89" fill="#000" opacity="0.24"/>
<circle cx="1027.4" cy="769.6" r="0.68" fill="#000" opacity="0.29"/>
<circle cx="1067.2" cy="833.0" r="0.50" fill="#000" opacity="0.47"/>
<circle cx="1014.5" cy="806.2" r="0.85" fill="#000" opacity="0.50"/>
<circle cx="1023.5" cy="814.6" r="0.50" fill="#000" opacity="0.18"/>
<circle cx="1038.5" cy="825.4" r="0.52" fill="#000" opacity="0.24"/>
<circle cx="984.2" cy="774.0" r="0.77" fill="#000" opacity="0.29"/>
<circle cx="1002.5" cy="834.9" r="0.59" fill="#000" opacity="0.27"/>
<circle cx="1089.9" cy="821.3" r="0.88" fill="#000" opacity="0.19"/>
<circle cx="988.9" cy="804.2" r="0.83" fill="#000" opacity="0.23"/>
<circle cx="1046.3" cy="844.5" r="0.60" fill="#000" opacity="0.31"/>
<circle cx="1121.1" cy="784.8" r="0.84" fill="#000" opacity="0.16"/>
<circle cx="1116.6" cy="818.9" r="0.85" fill="#000" opacity="0.32"/>
<circle cx="1050.6" cy="805.0" r="0.60" fill="#000" opacity="0.47"/>
<circle cx="1084.9" cy="740.6" r="0.89" fill="#000" opacity="0.24"/>
<circle cx="1075.5" cy="825.1" r="0.66" fill="#000" opacity="0.39"/>
<circle cx="1114.0" cy="781.4" r="0.72" fill="#000" opacity="0.42"/>
<circle cx="995.0" cy="821.0" r="0.42" fill="#000" opacity="0.42"/>
<circle cx="1059.8" cy="880.7" r="0.72" fill="#000" opacity="0.26"/>
<circle cx="1079.0" cy="834.0" r="0.72" fill="#000" opacity="0.39"/>
<circle cx="1067.4" cy="819.1" r="0.66" fill="#000" opacity="0.35"/>
<circle cx="1023.0" cy="829.6" r="0.70" fill="#000" opacity="0.15"/>
<circle cx="1034.5" cy="856.3" r="0.88" fill="#000" opacity="0.38"/>
<circle cx="1092.0" cy="769.2" r="0.52" fill="#000" opacity="0.24"/>
<circle cx="1115.7" cy="789.3" r="0.55" fill="#000" opacity="0.16"/>
<circle cx="986.7" cy="806.2" r="0.61" fill="#000" opacity="0.24"/>
<circle cx="1013.8" cy="739.6" r="0.51" fill="#000" opacity="0.16"/>
<circle cx="1024.6" cy="849.0" r="0.74" fill="#000" opacity="0.22"/>
<circle cx="1071.3" cy="740.6" r="0.65" fill="#000" opacity="0.22"/>
<circle cx="1094.8" cy="797.2" r="0.81" fill="#000" opacity="0.23"/>
<circle cx="1063.8" cy="873.2" r="0.55" fill="#000" opacity="0.48"/>
<circle cx="1017.4" cy="806.4" r="0.51" fill="#000" opacity="0.30"/>
<circle cx="1012.5" cy="739.3" r="0.47" fill="#000" opacity="0.29"/>
<circle cx="1069.5" cy="881.3" r="0.47" fill="#000" opacity="0.17"/>
<circle cx="1097.5" cy="823.8" r="0.85" fill="#000" opacity="0.46"/>
<circle cx="1043.0" cy="727.2" r="0.87" fill="#000" opacity="0.27"/>
<circle cx="1081.6" cy="875.6" r="0.77" fill="#000" opacity="0.16"/>
<circle cx="1026.6" cy="763.8" r="0.59" fill="#000" opacity="0.27"/>
<circle cx="1053.6" cy="809.2" r="0.54" fill="#000" opacity="0.27"/>
<circle cx="1078.2" cy="797.8" r="0.88" fill="#000" opacity="0.22"/>
<circle cx="1007.1" cy="861.5" r="0.81" fill="#000" opacity="0.30"/>
<circle cx="1103.2" cy="822.0" r="0.59" fill="#000" opacity="0.47"/>
<circle cx="1068.2" cy="850.1" r="0.85" fill="#000" opacity="0.16"/>
<circle cx="991.3" cy="843.3" r="0.78" fill="#000" opacity="0.16"/>
<circle cx="1070.8" cy="809.8" r="0.86" fill="#000" opacity="0.24"/>
<circle cx="1050.2" cy="730.7" r="0.57" fill="#000" opacity="0.25"/>
<circle cx="1111.3" cy="789.2" r="0.53" fill="#000" opacity="0.40"/>
<circle cx="1034.7" cy="843.4" r="0.40" fill="#000" opacity="0.41"/>
<circle cx="1105.9" cy="774.0" r="0.87" fill="#000" opacity="0.16"/>
<circle cx="1057.0" cy="859.6" r="0.88" fill="#000" opacity="0.48"/>
<circle cx="1021.6" cy="831.4" r="0.61" fill="#000" opacity="0.32"/>
<circle cx="1081.9" cy="790.8" r="0.80" fill="#000" opacity="0.41"/>
<circle cx="1082.1" cy="743.3" r="0.70" fill="#000" opacity="0.26"/>
<circle cx="1031.4" cy="848.5" r="0.79" fill="#000" opacity="0.18"/>
<circle cx="1073.7" cy="870.2" r="0.52" fill="#000" opacity="0.17"/>
<circle cx="1108.8" cy="817.9" r="0.56" fill="#000" opacity="0.49"/>
<circle cx="1109.8" cy="753.1" r="0.53" fill="#000" opacity="0.18"/>
<circle cx="1097.3" cy="837.2" r="0.75" fill="#000" opacity="0.31"/>
<circle cx="1056.5" cy="856.2" r="0.71" fill="#000" opacity="0.39"/>
<circle cx="1050.6" cy="732.9" r="0.73" fill="#000" opacity="0.19"/>
<circle cx="1074.6" cy="769.5" r="0.68" fill="#000" opacity="0.28"/>
<circle cx="1048.9" cy="770.4" r="0.52" fill="#000" opacity="0.24"/>
<circle cx="1093.8" cy="866.4" r="0.69" fill="#000" opacity="0.26"/>
<circle cx="989.1" cy="853.2" r="0.65" fill="#000" opacity="0.23"/>
<circle cx="1074.4" cy="746.0" r="0.90" fill="#000" opacity="0.19"/>
<circle cx="981.0" cy="816.8" r="0.82" fill="#000" opacity="0.47"/>
<circle cx="1092.9" cy="816.2" r="0.46" fill="#000" opacity="0.22"/>
<circle cx="1110.9" cy="795.3" r="0.87" fill="#000" opacity="0.28"/>
<circle cx="1086.7" cy="766.1" r="0.53" fill="#000" opacity="0.42"/>
<circle cx="1075.7" cy="796.9" r="0.70" fill="#000" opacity="0.37"/>
<circle cx="1061.2" cy="852.4" r="0.47" fill="#000" opacity="0.22"/>
<circle cx="1049.6" cy="866.5" r="0.73" fill="#000" opacity="0.22"/>
<circle cx="1096.5" cy="808.7" r="0.74" fill="#000" opacity="0.21"/>
<circle cx="1037.9" cy="838.4" r="0.80" fill="#000" opacity="0.34"/>
<circle cx="1074.7" cy="815.2" r="0.60" fill="#000" opacity="0.34"/>
<circle cx="1036.2" cy="787.2" r="0.48" fill="#000" opacity="0.39"/>
<circle cx="1016.1" cy="828.0" r="0.55" fill="#000" opacity="0.48"/>
<circle cx="1028.8" cy="860.4" r="0.58" fill="#000" opacity="0.30"/>
<circle cx="1103.3" cy="746.2" r="0.58" fill="#000" opacity="0.22"/>
<circle cx="1046.6" cy="770.2" r="0.40" fill="#000" opacity="0.47"/>
<circle cx="988.1" cy="838.4" r="0.60" fill="#000" opacity="0.46"/>
<circle cx="1020.7" cy="813.2" r="0.41" fill="#000" opacity="0.34"/>
<circle cx="1003.8" cy="747.3" r="0.44" fill="#000" opacity="0.37"/>
<circle cx="1012.9" cy="846.1" r="0.47" fill="#000" opacity="0.25"/>
<circle cx="976.3" cy="795.4" r="0.45" fill="#000" opacity="0.32"/>
<circle cx="1077.7" cy="732.5" r="0.50" fill="#000" opacity="0.19"/>
<circle cx="1124.5" cy="778.2" r="0.64" fill="#000" opacity="0.17"/>
<circle cx="1095.4" cy="783.5" r="0.85" fill="#000" opacity="0.37"/>
<circle cx="1065.8" cy="777.3" r="0.79" fill="#000" opacity="0.23"/>
<circle cx="991.6" cy="846.5" r="0.81" fill="#000" opacity="0.21"/>
<circle cx="1061.4" cy="854.4" r="0.66" fill="#000" opacity="0.28"/>
<circle cx="1079.6" cy="832.9" r="0.76" fill="#000" opacity="0.46"/>
<circle cx="1108.7" cy="820.6" r="0.78" fill="#000" opacity="0.16"/>
<circle cx="1065.7" cy="782.5" r="0.70" fill="#000" opacity="0.34"/>
<circle cx="1021.0" cy="774.2" r="0.61" fill="#000" opacity="0.35"/>
<circle cx="994.3" cy="834.3" r="0.62" fill="#000" opacity="0.30"/>
<circle cx="1112.9" cy="814.6" r="0.64" fill="#000" opacity="0.23"/>
<circle cx="1057.4" cy="736.1" r="0.63" fill="#000" opacity="0.21"/>
<circle cx="1026.1" cy="809.8" r="0.46" fill="#000" opacity="0.30"/>
<circle cx="1095.5" cy="834.1" r="0.66" fill="#000" opacity="0.16"/>
<circle cx="1036.7" cy="788.4" r="0.77" fill="#000" opacity="0.42"/>
<circle cx="1033.2" cy="804.2" r="0.65" fill="#000" opacity="0.28"/>
<circle cx="1079.2" cy="796.7" r="0.83" fill="#000" opacity="0.50"/>
<circle cx="1043.5" cy="734.7" r="0.50" fill="#000" opacity="0.49"/>
<circle cx="974.4" cy="809.4" r="0.86" fill="#000" opacity="0.21"/>
<circle cx="1069.7" cy="731.6" r="0.43" fill="#000" opacity="0.27"/>
<circle cx="1052.7" cy="774.1" r="0.85" fill="#000" opacity="0.25"/>
<circle cx="1063.5" cy="778.1" r="0.65" fill="#000" opacity="0.47"/>
<circle cx="1062.0" cy="844.6" r="0.65" fill="#000" opacity="0.26"/>
<circle cx="1084.3" cy="813.2" r="0.48" fill="#000" opacity="0.48"/>
<circle cx="1019.6" cy="738.0" r="0.48" fill="#000" opacity="0.42"/>
<circle cx="1094.6" cy="843.5" r="0.72" fill="#000" opacity="0.28"/>
<circle cx="1092.5" cy="763.4" r="0.69" fill="#000" opacity="0.46"/>
<circle cx="1113.7" cy="853.5" r="0.71" fill="#000" opacity="0.29"/>
<circle cx="1063.5" cy="766.7" r="0.90" fill="#000" opacity="0.35"/>
<circle cx="1007.4" cy="858.6" r="0.62" fill="#000" opacity="0.21"/>
<circle cx="1050.8" cy="788.2" r="0.81" fill="#000" opacity="0.24"/>
<circle cx="1001.3" cy="745.4" r="0.69" fill="#000" opacity="0.38"/>
<circle cx="1050.2" cy="808.6" r="0.42" fill="#000" opacity="0.20"/>
<circle cx="1012.8" cy="770.9" r="0.66" fill="#000" opacity="0.46"/>
<circle cx="1076.9" cy="833.2" r="0.73" fill="#000" opacity="0.16"/>
<circle cx="1098.5" cy="806.3" r="0.45" fill="#000" opacity="0.28"/>
<circle cx="1061.2" cy="865.0" r="0.69" fill="#000" opacity="0.22"/>
<circle cx="1012.8" cy="767.3" r="0.47" fill="#000" opacity="0.48"/>
<circle cx="1052.7" cy="836.0" r="0.45" fill="#000" opacity="0.37"/>
<circle cx="1099.7" cy="755.0" r="0.60" fill="#000" opacity="0.24"/>
<circle cx="1114.7" cy="810.1" r="0.68" fill="#000" opacity="0.27"/>
<circle cx="1019.5" cy="763.9" r="0.87" fill="#000" opacity="0.41"/>
<circle cx="1052.2" cy="880.5" r="0.42" fill="#000" opacity="0.34"/>
<circle cx="1019.6" cy="826.9" r="0.43" fill="#000" opacity="0.42"/>
<circle cx="1109.9" cy="810.0" r="0.87" fill="#000" opacity="0.20"/>
<circle cx="1070.7" cy="863.9" r="0.65" fill="#000" opacity="0.37"/>
<circle cx="1064.3" cy="775.1" r="0.55" fill="#000" opacity="0.26"/>
<circle cx="1122.5" cy="827.8" r="0.79" fill="#000" opacity="0.40"/>
<circle cx="1123.9" cy="808.4" r="0.77" fill="#000" opacity="0.31"/>
<circle cx="1048.8" cy="752.5" r="0.51" fill="#000" opacity="0.19"/>
<circle cx="1053.2" cy="820.9" r="0.57" fill="#000" opacity="0.41"/>
<circle cx="1027.0" cy="737.2" r="0.76" fill="#000" opacity="0.24"/>
<circle cx="1002.4" cy="788.2" r="0.79" fill="#000" opacity="0.33"/>
<circle cx="1045.4" cy="868.4" r="0.88" fill="#000" opacity="0.23"/>
<circle cx="1058.6" cy="798.8" r="0.53" fill="#000" opacity="0.23"/>
<circle cx="1048.6" cy="728.9" r="0.77" fill="#000" opacity="0.26"/>
<circle cx="1084.5" cy="774.6" r="0.52" fill="#000" opacity="0.47"/>
<circle cx="1006.8" cy="757.4" r="0.73" fill="#000" opacity="0.49"/>
<circle cx="980.5" cy="819.3" r="0.75" fill="#000" opacity="0.45"/>
<circle cx="989.5" cy="831.3" r="0.69" fill="#000" opacity="0.26"/>
<circle cx="1066.2" cy="866.0" r="0.44" fill="#000" opacity="0.47"/>
<circle cx="1059.5" cy="815.7" r="0.45" fill="#000" opacity="0.48"/>
<circle cx="1034.8" cy="830.1" r="0.41" fill="#000" opacity="0.16"/>
<circle cx="1029.3" cy="746.7" r="0.75" fill="#000" opacity="0.41"/>
<circle cx="1107.0" cy="829.8" r="0.58" fill="#000" opacity="0.44"/>
<circle cx="1083.0" cy="738.0" r="0.43" fill="#000" opacity="0.45"/>
<circle cx="1117.3" cy="766.2" r="0.45" fill="#000" opacity="0.22"/>
<circle cx="1062.7" cy="815.0" r="0.82" fill="#000" opacity="0.43"/>
<circle cx="1003.8" cy="752.0" r="0.72" fill="#000" opacity="0.25"/>
<circle cx="1071.5" cy="820.0" r="0.78" fill="#000" opacity="0.22"/>
<circle cx="1029.9" cy="852.1" r="0.41" fill="#000" opacity="0.24"/>
<circle cx="1037.9" cy="870.8" r="0.58" fill="#000" opacity="0.26"/>
<circle cx="1106.1" cy="792.9" r="0.83" fill="#000" opacity="0.37"/>
<circle cx="1101.2" cy="815.3" r="0.62" fill="#000" opacity="0.42"/>
<circle cx="1013.7" cy="859.8" r="0.67" fill="#000" opacity="0.23"/>
<circle cx="1066.9" cy="787.4" r="0.81" fill="#000" opacity="0.21"/>
<circle cx="1087.0" cy="805.8" r="0.78" fill="#000" opacity="0.49"/>
<circle cx="1106.7" cy="807.0" r="0.65" fill="#000" opacity="0.43"/>
<circle cx="1073.7" cy="856.3" r="0.57" fill="#000" opacity="0.44"/>
<circle cx="1046.4" cy="882.0" r="0.54" fill="#000" opacity="0.23"/>
<circle cx="1034.1" cy="752.6" r="0.45" fill="#000" opacity="0.37"/>
<circle cx="1112.7" cy="839.6" r="0.75" fill="#000" opacity="0.43"/>
<circle cx="1018.9" cy="771.6" r="0.60" fill="#000" opacity="0.29"/>
<circle cx="1069.4" cy="790.8" r="0.84" fill="#000" opacity="0.16"/>
<circle cx="1062.5" cy="844.4" r="0.85" fill="#000" opacity="0.33"/>
<circle cx="997.7" cy="856.5" r="0.52" fill="#000" opacity="0.31"/>
<circle cx="985.7" cy="792.3" r="1.25" fill="#000" opacity="0.79"/>
<circle cx="1025.9" cy="841.5" r="0.89" fill="#000" opacity="0.88"/>
<circle cx="1016.6" cy="748.8" r="0.90" fill="#000" opacity="0.70"/>
<circle cx="1060.1" cy="747.3" r="0.88" fill="#000" opacity="0.71"/>
<circle cx="1079.8" cy="780.6" r="0.91" fill="#000" opacity="0.64"/>
<circle cx="1030.9" cy="737.6" r="0.89" fill="#000" opacity="0.57"/>
<circle cx="1052.2" cy="849.6" r="1.11" fill="#000" opacity="0.57"/>
<circle cx="1035.7" cy="835.1" r="1.39" fill="#000" opacity="0.83"/>
<circle cx="1112.3" cy="850.7" r="0.86" fill="#000" opacity="0.67"/>
<circle cx="1120.0" cy="798.5" r="1.24" fill="#000" opacity="0.70"/>
<circle cx="1072.0" cy="863.7" r="0.86" fill="#000" opacity="0.59"/>
<circle cx="1040.6" cy="814.7" r="1.04" fill="#000" opacity="0.86"/>
<circle cx="1032.5" cy="754.3" r="1.18" fill="#000" opacity="0.71"/>
<circle cx="1089.2" cy="852.2" r="1.04" fill="#000" opacity="0.83"/>
<circle cx="1093.9" cy="777.8" r="1.14" fill="#000" opacity="0.84"/>
<circle cx="1019.0" cy="823.1" r="1.23" fill="#000" opacity="0.90"/>
<circle cx="1061.2" cy="741.6" r="1.31" fill="#000" opacity="0.81"/>
<circle cx="1018.7" cy="765.1" r="0.99" fill="#000" opacity="0.78"/>
<circle cx="1092.4" cy="834.4" r="1.27" fill="#000" opacity="0.82"/>
<circle cx="1025.0" cy="777.4" r="1.05" fill="#000" opacity="0.70"/>
<circle cx="1015.8" cy="771.3" r="1.21" fill="#000" opacity="0.92"/>
<circle cx="1077.0" cy="862.6" r="1.27" fill="#000" opacity="0.67"/>
<circle cx="975.4" cy="810.4" r="0.82" fill="#000" opacity="0.74"/>
<circle cx="1087.8" cy="863.4" r="1.36" fill="#000" opacity="0.73"/>
<circle cx="1098.6" cy="840.2" r="1.12" fill="#000" opacity="0.82"/>
<circle cx="989.9" cy="800.8" r="1.30" fill="#000" opacity="0.73"/>
<circle cx="987.9" cy="845.7" r="0.93" fill="#000" opacity="0.81"/>
<circle cx="998.8" cy="847.7" r="0.87" fill="#000" opacity="0.94"/>
<circle cx="1040.2" cy="820.0" r="0.96" fill="#000" opacity="0.68"/>
<circle cx="1101.3" cy="809.7" r="1.05" fill="#000" opacity="0.81"/>
<circle cx="1027.7" cy="837.4" r="0.93" fill="#000" opacity="0.83"/>
<circle cx="1103.6" cy="784.8" r="0.93" fill="#000" opacity="0.86"/>
<circle cx="1023.8" cy="827.8" r="0.88" fill="#000" opacity="0.85"/>
<circle cx="1074.0" cy="748.2" r="1.08" fill="#000" opacity="0.75"/>
<circle cx="1062.9" cy="880.5" r="1.01" fill="#000" opacity="0.79"/>
<circle cx="1080.7" cy="742.1" r="1.08" fill="#000" opacity="0.63"/>
<circle cx="1025.4" cy="797.3" r="1.30" fill="#000" opacity="0.66"/>
<circle cx="1075.1" cy="773.3" r="1.03" fill="#000" opacity="0.61"/>
<circle cx="1021.7" cy="820.4" r="0.80" fill="#000" opacity="0.82"/>
<circle cx="1044.0" cy="843.0" r="0.98" fill="#000" opacity="0.72"/>
<circle cx="995.9" cy="832.3" r="1.20" fill="#000" opacity="0.66"/>
<circle cx="1115.9" cy="774.6" r="0.83" fill="#000" opacity="0.87"/>
<circle cx="1108.3" cy="767.3" r="0.88" fill="#000" opacity="0.87"/>
<circle cx="1045.2" cy="798.5" r="0.81" fill="#000" opacity="0.93"/>
<circle cx="1030.0" cy="773.4" r="0.86" fill="#000" opacity="0.56"/>
<circle cx="1058.5" cy="873.2" r="1.01" fill="#000" opacity="0.57"/>
<circle cx="1108.1" cy="766.5" r="0.90" fill="#000" opacity="0.90"/>
<circle cx="998.4" cy="762.5" r="1.20" fill="#000" opacity="0.90"/>
<circle cx="1068.3" cy="736.8" r="0.92" fill="#000" opacity="0.81"/>
<circle cx="986.2" cy="792.7" r="1.06" fill="#000" opacity="0.90"/>
<circle cx="1014.1" cy="792.0" r="0.94" fill="#000" opacity="0.56"/>
<circle cx="1032.8" cy="806.3" r="1.08" fill="#000" opacity="0.56"/>
<circle cx="997.1" cy="808.5" r="1.12" fill="#000" opacity="0.89"/>
<circle cx="1122.3" cy="808.4" r="1.08" fill="#000" opacity="0.75"/>
<circle cx="1015.6" cy="744.5" r="1.02" fill="#000" opacity="0.69"/>
<circle cx="1072.1" cy="800.3" r="1.18" fill="#000" opacity="0.79"/>
<circle cx="1110.9" cy="816.3" r="1.21" fill="#000" opacity="0.92"/>
<circle cx="1014.4" cy="872.5" r="1.11" fill="#000" opacity="0.72"/>
<circle cx="1062.9" cy="797.0" r="1.23" fill="#000" opacity="0.78"/>
<circle cx="1013.6" cy="866.4" r="1.02" fill="#000" opacity="0.71"/>
<circle cx="984.6" cy="794.7" r="0.93" fill="#000" opacity="0.70"/>
<circle cx="1000.7" cy="832.4" r="1.30" fill="#000" opacity="0.63"/>
<circle cx="1074.5" cy="762.2" r="1.10" fill="#000" opacity="0.62"/>
<circle cx="975.3" cy="802.4" r="1.19" fill="#000" opacity="0.86"/>
<circle cx="1030.3" cy="843.5" r="0.98" fill="#000" opacity="0.76"/>
<circle cx="1006.2" cy="754.2" r="0.82" fill="#000" opacity="0.83"/>
<circle cx="1094.4" cy="767.9" r="0.83" fill="#000" opacity="0.64"/>
<circle cx="1085.1" cy="806.8" r="1.35" fill="#000" opacity="0.77"/>
<circle cx="1014.0" cy="748.0" r="1.35" fill="#000" opacity="0.78"/>
<circle cx="1006.1" cy="764.6" r="1.22" fill="#000" opacity="0.77"/>
<circle cx="998.2" cy="741.2" r="2.67" fill="#080808" opacity="1"/>
<circle cx="995.2" cy="749.2" r="1.53" fill="#080808" opacity="1"/>
<circle cx="981.1" cy="760.9" r="2.29" fill="#080808" opacity="1"/>
<circle cx="1017.3" cy="754.9" r="2.67" fill="#080808" opacity="1"/>
<circle cx="1037.4" cy="749.6" r="1.53" fill="#080808" opacity="1"/>
<circle cx="1047.1" cy="754.3" r="2.29" fill="#080808" opacity="1"/>
<circle cx="1038.4" cy="724.7" r="1.53" fill="#080808" opacity="1"/>
<circle cx="1057.5" cy="724.7" r="1.53" fill="#080808" opacity="1"/>
<circle cx="1063.6" cy="724.7" r="1.53" fill="#080808" opacity="1"/>
<circle cx="1077.2" cy="726.1" r="1.53" fill="#080808" opacity="1"/>
<circle cx="1078.0" cy="730.1" r="1.15" fill="#080808" opacity="0.8"/>
<circle cx="1036.4" cy="769.7" r="1.53" fill="#080808" opacity="1"/>
<circle cx="1021.3" cy="765.3" r="0.95" fill="#080808" opacity="0.8"/>
<circle cx="1000.2" cy="770.9" r="1.15" fill="#080808" opacity="0.8"/>
<circle cx="1016.3" cy="780.4" r="1.91" fill="#080808" opacity="1"/>
<circle cx="994.2" cy="783.4" r="1.53" fill="#080808" opacity="1"/>
<circle cx="1008.3" cy="787.0" r="1.72" fill="#080808" opacity="1"/>
<circle cx="1041.9" cy="786.4" r="1.72" fill="#080808" opacity="1"/>
<circle cx="1053.5" cy="787.0" r="1.72" fill="#080808" opacity="1"/>
<circle cx="1033.4" cy="793.1" r="1.91" fill="#080808" opacity="1"/>
<circle cx="1050.5" cy="793.1" r="1.34" fill="#080808" opacity="1"/>
<circle cx="1041.9" cy="795.5" r="1.15" fill="#080808" opacity="0.8"/>
<circle cx="1019.3" cy="795.5" r="1.15" fill="#080808" opacity="0.8"/>
<circle cx="1078.0" cy="774.4" r="1.15" fill="#080808" opacity="0.8"/>
<circle cx="1085.3" cy="780.4" r="1.34" fill="#080808" opacity="1"/>
<circle cx="1072.6" cy="765.3" r="0.95" fill="#080808" opacity="0.8"/>
<circle cx="1122.9" cy="770.9" r="0.95" fill="#080808" opacity="0.8"/>
<circle cx="1089.3" cy="795.9" r="1.72" fill="#080808" opacity="1"/>
<circle cx="1110.8" cy="798.5" r="1.15" fill="#080808" opacity="0.8"/>
<circle cx="1071.6" cy="804.5" r="2.48" fill="#080808" opacity="1"/>
<circle cx="1064.6" cy="807.9" r="1.53" fill="#080808" opacity="1"/>
<circle cx="1047.5" cy="809.1" r="1.34" fill="#080808" opacity="1"/>
<circle cx="1032.4" cy="807.9" r="1.53" fill="#080808" opacity="1"/>
<circle cx="1088.7" cy="807.5" r="1.34" fill="#080808" opacity="1"/>
<circle cx="1077.6" cy="814.6" r="1.53" fill="#080808" opacity="1"/>
<circle cx="1084.1" cy="818.6" r="2.48" fill="#080808" opacity="1"/>
<circle cx="1093.3" cy="812.6" r="0.95" fill="#080808" opacity="0.8"/>
<circle cx="1117.8" cy="816.6" r="2.29" fill="#080808" opacity="1"/>
<circle cx="1109.4" cy="825.2" r="2.10" fill="#080808" opacity="1"/>
<circle cx="1128.3" cy="823.6" r="1.15" fill="#080808" opacity="0.8"/>
<circle cx="1055.5" cy="827.2" r="2.29" fill="#080808" opacity="1"/>
<circle cx="1029.8" cy="826.6" r="1.72" fill="#080808" opacity="1"/>
<circle cx="975.1" cy="805.5" r="1.34" fill="#080808" opacity="1"/>
<circle cx="972.1" cy="809.5" r="1.15" fill="#080808" opacity="0.8"/>
<circle cx="979.1" cy="816.0" r="1.53" fill="#080808" opacity="1"/>
<circle cx="971.5" cy="815.2" r="1.15" fill="#080808" opacity="0.8"/>
<circle cx="974.1" cy="825.6" r="1.53" fill="#080808" opacity="1"/>
<circle cx="973.1" cy="787.4" r="1.15" fill="#080808" opacity="0.8"/>
<circle cx="991.2" cy="833.3" r="2.29" fill="#080808" opacity="1"/>
<circle cx="997.6" cy="833.7" r="1.72" fill="#080808" opacity="1"/>
<circle cx="989.2" cy="809.5" r="0.95" fill="#080808" opacity="0.8"/>
<circle cx="1068.6" cy="838.7" r="1.72" fill="#080808" opacity="1"/>
<circle cx="1088.1" cy="834.7" r="1.53" fill="#080808" opacity="1"/>
<circle cx="1045.9" cy="845.7" r="2.29" fill="#080808" opacity="1"/>
<circle cx="1020.3" cy="848.1" r="2.10" fill="#080808" opacity="1"/>
<circle cx="1035.4" cy="852.2" r="1.53" fill="#080808" opacity="1"/>
<circle cx="1025.4" cy="854.8" r="1.34" fill="#080808" opacity="1"/>
<circle cx="1069.6" cy="848.1" r="1.34" fill="#080808" opacity="1"/>
<circle cx="1060.5" cy="856.2" r="1.91" fill="#080808" opacity="1"/>
<circle cx="1068.6" cy="854.8" r="1.72" fill="#080808" opacity="1"/>
<circle cx="1063.6" cy="861.8" r="2.29" fill="#080808" opacity="1"/>
<circle cx="1075.2" cy="860.2" r="1.34" fill="#080808" opacity="1"/>
<circle cx="1066.6" cy="866.8" r="1.53" fill="#080808" opacity="1"/>
<circle cx="1035.4" cy="860.8" r="1.72" fill="#080808" opacity="1"/>
<circle cx="1028.4" cy="863.8" r="1.53" fill="#080808" opacity="1"/>
<circle cx="1022.4" cy="866.8" r="1.53" fill="#080808" opacity="1"/>
<circle cx="1013.3" cy="861.8" r="1.34" fill="#080808" opacity="1"/>
<circle cx="997.6" cy="853.8" r="1.15" fill="#080808" opacity="0.8"/>
<circle cx="992.2" cy="857.8" r="1.72" fill="#080808" opacity="1"/>
<circle cx="1003.3" cy="866.8" r="2.67" fill="#080808" opacity="1"/>
<circle cx="1011.3" cy="873.5" r="1.91" fill="#080808" opacity="1"/>
<circle cx="1021.3" cy="875.9" r="1.53" fill="#080808" opacity="1"/>
<circle cx="1031.8" cy="873.9" r="1.53" fill="#080808" opacity="1"/>
<circle cx="1029.8" cy="880.3" r="1.34" fill="#080808" opacity="1"/>
<circle cx="1095.3" cy="861.8" r="2.29" fill="#080808" opacity="1"/>
<circle cx="1106.2" cy="860.2" r="1.53" fill="#080808" opacity="1"/>
<circle cx="1095.7" cy="869.9" r="1.15" fill="#080808" opacity="0.8"/>
<circle cx="1083.7" cy="875.9" r="1.53" fill="#080808" opacity="1"/>
<circle cx="1118.2" cy="845.7" r="1.53" fill="#080808" opacity="1"/>
<circle cx="1115.8" cy="849.8" r="0.95" fill="#080808" opacity="0.8"/>
<circle cx="1082.7" cy="884.9" r="0.95" fill="#080808" opacity="0.8"/>
<circle cx="1079.6" cy="861.8" r="0.95" fill="#080808" opacity="0.8"/>
<circle cx="1111.8" cy="805.5" r="0.95" fill="#080808" opacity="0.8"/>
<circle cx="1104.8" cy="787.4" r="0.76" fill="#080808" opacity="0.8"/></g>
<g filter="url(#blur)"><ellipse cx="1237.3" cy="807.5" rx="88.8" ry="87.0" fill="url(#glid)"/>
<rect x="1146.0" y="801.5" width="5" height="11" fill="#ededed"/>
<rect x="1323.6" y="801.5" width="5" height="11" fill="#ededed"/>
<path d="M1160.9 772.6 A84.3 82.5 0 0 1 1259.1 727.8" fill="none" stroke="#c4c4c4" stroke-width="3.2" stroke-linecap="round" opacity="0.85"/>
<path d="M1293.4 873.0 A87.3 85.5 0 0 1 1193.7 881.5" fill="none" stroke="#d6d6d6" stroke-width="2.0" stroke-linecap="round" opacity="1"/>
<path d="M1267.4 726.5 A88.0 86.2 0 0 1 1304.7 862.9" fill="none" stroke="#e4e4e4" stroke-width="1.4" stroke-linecap="round" opacity="1"/>
<circle cx="1222.6" cy="775.8" r="0.73" fill="#000" opacity="0.31"/>
<circle cx="1239.2" cy="783.4" r="0.49" fill="#000" opacity="0.16"/>
<circle cx="1248.4" cy="735.9" r="0.73" fill="#000" opacity="0.28"/>
<circle cx="1266.9" cy="747.2" r="0.68" fill="#000" opacity="0.24"/>
<circle cx="1221.5" cy="854.1" r="0.56" fill="#000" opacity="0.30"/>
<circle cx="1191.2" cy="750.5" r="0.43" fill="#000" opacity="0.35"/>
<circle cx="1262.6" cy="813.9" r="0.81" fill="#000" opacity="0.35"/>
<circle cx="1281.5" cy="782.7" r="0.41" fill="#000" opacity="0.29"/>
<circle cx="1175.8" cy="767.4" r="0.89" fill="#000" opacity="0.32"/>
<circle cx="1216.7" cy="820.2" r="0.72" fill="#000" opacity="0.22"/>
<circle cx="1242.8" cy="815.2" r="0.40" fill="#000" opacity="0.39"/>
<circle cx="1291.1" cy="859.1" r="0.44" fill="#000" opacity="0.45"/>
<circle cx="1244.3" cy="814.8" r="0.76" fill="#000" opacity="0.23"/>
<circle cx="1233.9" cy="774.9" r="0.43" fill="#000" opacity="0.42"/>
<circle cx="1221.4" cy="739.2" r="0.76" fill="#000" opacity="0.18"/>
<circle cx="1193.2" cy="761.3" r="0.63" fill="#000" opacity="0.48"/>
<circle cx="1235.4" cy="881.9" r="0.76" fill="#000" opacity="0.15"/>
<circle cx="1298.2" cy="813.2" r="0.81" fill="#000" opacity="0.18"/>
<circle cx="1213.1" cy="867.5" r="0.48" fill="#000" opacity="0.45"/>
<circle cx="1218.8" cy="809.1" r="0.58" fill="#000" opacity="0.35"/>
<circle cx="1179.5" cy="830.9" r="0.47" fill="#000" opacity="0.43"/>
<circle cx="1197.5" cy="853.6" r="0.71" fill="#000" opacity="0.30"/>
<circle cx="1186.7" cy="851.7" r="0.87" fill="#000" opacity="0.42"/>
<circle cx="1199.9" cy="790.8" r="0.43" fill="#000" opacity="0.49"/>
<circle cx="1217.3" cy="741.5" r="0.57" fill="#000" opacity="0.36"/>
<circle cx="1305.7" cy="797.7" r="0.70" fill="#000" opacity="0.26"/>
<circle cx="1172.9" cy="838.5" r="0.59" fill="#000" opacity="0.39"/>
<circle cx="1179.7" cy="764.7" r="0.80" fill="#000" opacity="0.25"/>
<circle cx="1276.2" cy="807.9" r="0.61" fill="#000" opacity="0.36"/>
<circle cx="1266.1" cy="742.1" r="0.42" fill="#000" opacity="0.44"/>
<circle cx="1264.0" cy="742.2" r="0.69" fill="#000" opacity="0.25"/>
<circle cx="1277.7" cy="752.7" r="0.74" fill="#000" opacity="0.47"/>
<circle cx="1224.7" cy="825.6" r="0.68" fill="#000" opacity="0.43"/>
<circle cx="1257.4" cy="870.0" r="0.87" fill="#000" opacity="0.23"/>
<circle cx="1188.5" cy="768.7" r="0.63" fill="#000" opacity="0.22"/>
<circle cx="1235.3" cy="873.2" r="0.80" fill="#000" opacity="0.31"/>
<circle cx="1295.3" cy="843.1" r="0.79" fill="#000" opacity="0.23"/>
<circle cx="1174.3" cy="773.1" r="0.84" fill="#000" opacity="0.33"/>
<circle cx="1179.7" cy="816.0" r="0.49" fill="#000" opacity="0.22"/>
<circle cx="1264.1" cy="865.0" r="0.58" fill="#000" opacity="0.35"/>
<circle cx="1192.7" cy="838.8" r="0.47" fill="#000" opacity="0.17"/>
<circle cx="1283.7" cy="806.7" r="0.45" fill="#000" opacity="0.37"/>
<circle cx="1244.3" cy="778.4" r="0.70" fill="#000" opacity="0.27"/>
<circle cx="1226.5" cy="806.2" r="0.42" fill="#000" opacity="0.50"/>
<circle cx="1272.5" cy="768.1" r="0.68" fill="#000" opacity="0.24"/>
<circle cx="1246.3" cy="758.9" r="0.87" fill="#000" opacity="0.42"/>
<circle cx="1268.5" cy="739.9" r="0.53" fill="#000" opacity="0.16"/>
<circle cx="1247.1" cy="838.2" r="0.44" fill="#000" opacity="0.17"/>
<circle cx="1171.1" cy="782.5" r="0.63" fill="#000" opacity="0.48"/>
<circle cx="1253.5" cy="797.2" r="0.70" fill="#000" opacity="0.29"/>
<circle cx="1291.4" cy="858.3" r="0.53" fill="#000" opacity="0.35"/>
<circle cx="1190.3" cy="750.2" r="0.73" fill="#000" opacity="0.29"/>
<circle cx="1208.6" cy="817.2" r="0.88" fill="#000" opacity="0.50"/>
<circle cx="1239.9" cy="822.2" r="0.53" fill="#000" opacity="0.27"/>
<circle cx="1296.3" cy="766.1" r="0.82" fill="#000" opacity="0.17"/>
<circle cx="1251.8" cy="745.3" r="0.72" fill="#000" opacity="0.49"/>
<circle cx="1264.4" cy="817.4" r="0.78" fill="#000" opacity="0.48"/>
<circle cx="1218.9" cy="770.4" r="0.70" fill="#000" opacity="0.42"/>
<circle cx="1271.3" cy="834.0" r="0.53" fill="#000" opacity="0.19"/>
<circle cx="1206.4" cy="811.1" r="0.52" fill="#000" opacity="0.20"/>
<circle cx="1233.6" cy="799.9" r="0.76" fill="#000" opacity="0.22"/>
<circle cx="1308.4" cy="823.9" r="0.51" fill="#000" opacity="0.48"/>
<circle cx="1285.1" cy="754.4" r="0.47" fill="#000" opacity="0.31"/>
<circle cx="1297.2" cy="849.3" r="0.82" fill="#000" opacity="0.37"/>
<circle cx="1195.1" cy="820.5" r="0.81" fill="#000" opacity="0.32"/>
<circle cx="1217.5" cy="786.8" r="0.51" fill="#000" opacity="0.17"/>
<circle cx="1224.6" cy="752.6" r="0.47" fill="#000" opacity="0.45"/>
<circle cx="1232.3" cy="855.9" r="0.48" fill="#000" opacity="0.24"/>
<circle cx="1260.7" cy="770.4" r="0.48" fill="#000" opacity="0.32"/>
<circle cx="1207.4" cy="873.0" r="0.46" fill="#000" opacity="0.49"/>
<circle cx="1304.5" cy="832.6" r="0.73" fill="#000" opacity="0.22"/>
<circle cx="1197.2" cy="813.2" r="0.53" fill="#000" opacity="0.22"/>
<circle cx="1187.7" cy="864.3" r="0.90" fill="#000" opacity="0.47"/>
<circle cx="1270.7" cy="831.0" r="0.85" fill="#000" opacity="0.17"/>
<circle cx="1231.3" cy="766.9" r="0.89" fill="#000" opacity="0.16"/>
<circle cx="1252.8" cy="766.1" r="0.47" fill="#000" opacity="0.15"/>
<circle cx="1264.5" cy="759.7" r="0.49" fill="#000" opacity="0.30"/>
<circle cx="1267.4" cy="788.9" r="0.69" fill="#000" opacity="0.20"/>
<circle cx="1265.6" cy="867.7" r="0.76" fill="#000" opacity="0.22"/>
<circle cx="1257.0" cy="818.2" r="0.70" fill="#000" opacity="0.32"/>
<circle cx="1232.2" cy="841.5" r="0.71" fill="#000" opacity="0.40"/>
<circle cx="1259.1" cy="753.9" r="0.50" fill="#000" opacity="0.17"/>
<circle cx="1232.1" cy="759.4" r="0.76" fill="#000" opacity="0.17"/>
<circle cx="1253.6" cy="766.8" r="0.82" fill="#000" opacity="0.45"/>
<circle cx="1227.9" cy="807.9" r="0.86" fill="#000" opacity="0.32"/>
<circle cx="1264.4" cy="779.3" r="0.49" fill="#000" opacity="0.44"/>
<circle cx="1216.7" cy="830.2" r="0.59" fill="#000" opacity="0.36"/>
<circle cx="1291.9" cy="809.1" r="0.62" fill="#000" opacity="0.33"/>
<circle cx="1283.8" cy="851.6" r="0.81" fill="#000" opacity="0.45"/>
<circle cx="1209.7" cy="865.2" r="0.59" fill="#000" opacity="0.41"/>
<circle cx="1302.9" cy="834.1" r="0.88" fill="#000" opacity="0.32"/>
<circle cx="1182.3" cy="802.9" r="0.67" fill="#000" opacity="0.16"/>
<circle cx="1272.4" cy="800.2" r="0.49" fill="#000" opacity="0.19"/>
<circle cx="1237.1" cy="876.0" r="0.42" fill="#000" opacity="0.18"/>
<circle cx="1226.7" cy="775.7" r="0.41" fill="#000" opacity="0.36"/>
<circle cx="1188.7" cy="782.2" r="0.75" fill="#000" opacity="0.19"/>
<circle cx="1281.1" cy="760.6" r="0.42" fill="#000" opacity="0.19"/>
<circle cx="1183.7" cy="809.7" r="0.54" fill="#000" opacity="0.19"/>
<circle cx="1214.0" cy="823.2" r="0.70" fill="#000" opacity="0.45"/>
<circle cx="1271.8" cy="853.3" r="0.77" fill="#000" opacity="0.21"/>
<circle cx="1271.0" cy="742.3" r="0.59" fill="#000" opacity="0.30"/>
<circle cx="1266.7" cy="761.0" r="0.60" fill="#000" opacity="0.48"/>
<circle cx="1244.7" cy="764.0" r="0.52" fill="#000" opacity="0.27"/>
<circle cx="1168.3" cy="837.1" r="0.80" fill="#000" opacity="0.47"/>
<circle cx="1265.0" cy="743.5" r="0.43" fill="#000" opacity="0.33"/>
<circle cx="1308.0" cy="788.3" r="0.52" fill="#000" opacity="0.30"/>
<circle cx="1206.5" cy="773.6" r="0.67" fill="#000" opacity="0.17"/>
<circle cx="1188.1" cy="829.5" r="0.41" fill="#000" opacity="0.20"/>
<circle cx="1302.9" cy="794.9" r="0.87" fill="#000" opacity="0.37"/>
<circle cx="1263.2" cy="741.1" r="0.84" fill="#000" opacity="0.16"/>
<circle cx="1212.7" cy="777.1" r="0.74" fill="#000" opacity="0.25"/>
<circle cx="1167.0" cy="788.4" r="0.71" fill="#000" opacity="0.24"/>
<circle cx="1187.8" cy="801.1" r="0.88" fill="#000" opacity="0.25"/>
<circle cx="1216.5" cy="864.8" r="0.46" fill="#000" opacity="0.36"/>
<circle cx="1289.6" cy="792.7" r="0.53" fill="#000" opacity="0.31"/>
<circle cx="1208.8" cy="801.3" r="0.46" fill="#000" opacity="0.20"/>
<circle cx="1224.2" cy="854.0" r="0.54" fill="#000" opacity="0.24"/>
<circle cx="1285.0" cy="836.9" r="0.82" fill="#000" opacity="0.36"/>
<circle cx="1182.0" cy="781.4" r="0.50" fill="#000" opacity="0.40"/>
<circle cx="1182.9" cy="821.2" r="0.71" fill="#000" opacity="0.31"/>
<circle cx="1223.5" cy="842.1" r="0.51" fill="#000" opacity="0.33"/>
<circle cx="1194.2" cy="846.4" r="0.41" fill="#000" opacity="0.27"/>
<circle cx="1261.2" cy="779.3" r="0.68" fill="#000" opacity="0.32"/>
<circle cx="1221.0" cy="881.0" r="0.55" fill="#000" opacity="0.42"/>
<circle cx="1247.9" cy="823.9" r="0.84" fill="#000" opacity="0.30"/>
<circle cx="1281.0" cy="825.4" r="0.62" fill="#000" opacity="0.41"/>
<circle cx="1265.1" cy="830.3" r="0.88" fill="#000" opacity="0.41"/>
<circle cx="1262.1" cy="843.8" r="0.58" fill="#000" opacity="0.39"/>
<circle cx="1185.3" cy="760.9" r="0.81" fill="#000" opacity="0.33"/>
<circle cx="1232.7" cy="742.3" r="0.78" fill="#000" opacity="0.32"/>
<circle cx="1251.2" cy="745.2" r="0.86" fill="#000" opacity="0.19"/>
<circle cx="1240.7" cy="803.9" r="0.78" fill="#000" opacity="0.36"/>
<circle cx="1162.9" cy="808.5" r="0.69" fill="#000" opacity="0.30"/>
<circle cx="1252.2" cy="738.3" r="0.70" fill="#000" opacity="0.28"/>
<circle cx="1188.3" cy="822.6" r="0.76" fill="#000" opacity="0.25"/>
<circle cx="1193.6" cy="843.3" r="0.59" fill="#000" opacity="0.26"/>
<circle cx="1253.4" cy="739.5" r="0.65" fill="#000" opacity="0.31"/>
<circle cx="1254.1" cy="845.8" r="0.47" fill="#000" opacity="0.35"/>
<circle cx="1217.7" cy="796.5" r="0.86" fill="#000" opacity="0.26"/>
<circle cx="1275.7" cy="749.7" r="0.88" fill="#000" opacity="0.22"/>
<circle cx="1172.6" cy="839.8" r="0.41" fill="#000" opacity="0.17"/>
<circle cx="1188.2" cy="786.3" r="0.86" fill="#000" opacity="0.42"/>
<circle cx="1163.8" cy="789.4" r="0.66" fill="#000" opacity="0.33"/>
<circle cx="1218.6" cy="764.1" r="0.58" fill="#000" opacity="0.36"/>
<circle cx="1193.5" cy="866.9" r="0.74" fill="#000" opacity="0.33"/>
<circle cx="1275.0" cy="834.5" r="0.60" fill="#000" opacity="0.35"/>
<circle cx="1173.8" cy="775.6" r="0.88" fill="#000" opacity="0.32"/>
<circle cx="1181.6" cy="829.5" r="0.90" fill="#000" opacity="0.27"/>
<circle cx="1170.1" cy="794.6" r="0.49" fill="#000" opacity="0.26"/>
<circle cx="1305.6" cy="798.2" r="0.66" fill="#000" opacity="0.19"/>
<circle cx="1285.9" cy="769.6" r="1.29" fill="#000" opacity="0.95"/>
<circle cx="1274.0" cy="776.4" r="0.89" fill="#000" opacity="0.63"/>
<circle cx="1184.7" cy="803.7" r="0.91" fill="#000" opacity="0.58"/>
<circle cx="1197.9" cy="765.4" r="1.01" fill="#000" opacity="0.95"/>
<circle cx="1227.3" cy="795.9" r="1.05" fill="#000" opacity="0.85"/>
<circle cx="1215.8" cy="865.3" r="0.80" fill="#000" opacity="0.64"/>
<circle cx="1268.4" cy="759.9" r="1.20" fill="#000" opacity="0.59"/>
<circle cx="1182.1" cy="808.2" r="0.96" fill="#000" opacity="0.79"/>
<circle cx="1232.5" cy="778.4" r="1.72" fill="#080808" opacity="1"/>
<circle cx="1233.5" cy="787.4" r="1.72" fill="#080808" opacity="1"/>
<circle cx="1268.3" cy="779.4" r="1.53" fill="#080808" opacity="1"/>
<circle cx="1251.0" cy="806.5" r="1.53" fill="#080808" opacity="1"/>
<circle cx="1272.1" cy="806.5" r="1.34" fill="#080808" opacity="1"/>
<circle cx="1287.4" cy="809.9" r="1.72" fill="#080808" opacity="1"/>
<circle cx="1232.5" cy="809.1" r="1.15" fill="#080808" opacity="0.8"/>
<circle cx="1200.3" cy="821.6" r="1.72" fill="#080808" opacity="1"/>
<circle cx="1176.8" cy="819.6" r="1.15" fill="#080808" opacity="0.8"/>
<circle cx="1212.0" cy="829.2" r="1.15" fill="#080808" opacity="0.8"/>
<circle cx="1193.9" cy="843.7" r="1.34" fill="#080808" opacity="1"/>
<circle cx="1212.0" cy="849.8" r="1.15" fill="#080808" opacity="0.8"/>
<circle cx="1183.2" cy="857.8" r="1.91" fill="#080808" opacity="1"/>
<circle cx="1210.0" cy="866.4" r="1.72" fill="#080808" opacity="1"/>
<circle cx="1200.9" cy="871.5" r="0.95" fill="#080808" opacity="0.8"/>
<circle cx="1257.2" cy="850.2" r="1.91" fill="#080808" opacity="1"/>
<circle cx="1270.7" cy="846.7" r="1.91" fill="#080808" opacity="1"/>
<circle cx="1257.2" cy="878.9" r="1.34" fill="#080808" opacity="1"/>
<circle cx="1265.7" cy="876.3" r="0.95" fill="#080808" opacity="0.8"/>
<circle cx="1294.8" cy="857.8" r="1.15" fill="#080808" opacity="0.8"/>
<circle cx="1314.5" cy="817.6" r="1.91" fill="#080808" opacity="1"/>
<circle cx="1313.3" cy="825.6" r="1.53" fill="#080808" opacity="1"/>
<circle cx="1311.9" cy="795.5" r="1.15" fill="#080808" opacity="0.8"/>
<circle cx="1313.3" cy="784.4" r="0.95" fill="#080808" opacity="0.8"/>
<circle cx="1162.7" cy="795.9" r="1.53" fill="#080808" opacity="1"/>
<circle cx="1164.1" cy="784.4" r="0.76" fill="#080808" opacity="0.8"/>
<circle cx="1211.4" cy="748.2" r="0.95" fill="#080808" opacity="0.8"/>
<circle cx="1196.9" cy="741.6" r="0.76" fill="#080808" opacity="0.8"/>
<circle cx="1281.7" cy="741.6" r="0.76" fill="#080808" opacity="0.8"/>
<circle cx="1293.4" cy="751.6" r="0.76" fill="#080808" opacity="0.8"/>
<circle cx="1193.3" cy="764.3" r="0.76" fill="#080808" opacity="0.8"/>
<circle cx="1248.6" cy="735.2" r="0.95" fill="#080808" opacity="0.8"/>
<circle cx="1286.8" cy="837.7" r="0.95" fill="#080808" opacity="0.8"/>
<circle cx="1303.9" cy="830.7" r="0.76" fill="#080808" opacity="0.8"/></g>
<g filter="url(#blur)"><ellipse cx="1465.5" cy="809.0" rx="85.6" ry="86.0" fill="url(#gplain)"/>
<path d="M1534.3 857.4 A84.0 84.4 0 0 1 1401.2 863.3" fill="none" stroke="#d2d2d2" stroke-width="2.6" stroke-linecap="round" opacity="1"/>
<path d="M1386.2 780.0 A84.4 84.8 0 0 1 1538.6 766.6" fill="none" stroke="#e2e2e2" stroke-width="1.6" stroke-linecap="round" opacity="1"/>
<circle cx="1388.3" cy="793.5" r="0.69" fill="#000" opacity="0.29"/>
<circle cx="1488.1" cy="830.6" r="0.78" fill="#000" opacity="0.19"/>
<circle cx="1491.8" cy="828.2" r="0.66" fill="#000" opacity="0.44"/>
<circle cx="1411.8" cy="762.8" r="0.43" fill="#000" opacity="0.15"/>
<circle cx="1471.3" cy="764.6" r="0.76" fill="#000" opacity="0.27"/>
<circle cx="1485.3" cy="844.6" r="0.45" fill="#000" opacity="0.47"/>
<circle cx="1425.0" cy="786.0" r="0.62" fill="#000" opacity="0.28"/>
<circle cx="1535.6" cy="834.1" r="0.69" fill="#000" opacity="0.49"/>
<circle cx="1407.8" cy="832.0" r="0.52" fill="#000" opacity="0.17"/>
<circle cx="1531.6" cy="778.3" r="0.56" fill="#000" opacity="0.46"/>
<circle cx="1483.0" cy="769.2" r="0.70" fill="#000" opacity="0.49"/>
<circle cx="1388.7" cy="811.1" r="0.52" fill="#000" opacity="0.29"/>
<circle cx="1458.2" cy="772.6" r="0.55" fill="#000" opacity="0.46"/>
<circle cx="1395.6" cy="815.9" r="0.52" fill="#000" opacity="0.21"/>
<circle cx="1444.0" cy="835.5" r="0.89" fill="#000" opacity="0.25"/>
<circle cx="1440.7" cy="798.9" r="0.67" fill="#000" opacity="0.28"/>
<circle cx="1448.9" cy="820.5" r="0.46" fill="#000" opacity="0.44"/>
<circle cx="1442.3" cy="840.4" r="0.50" fill="#000" opacity="0.25"/>
<circle cx="1466.7" cy="823.7" r="0.73" fill="#000" opacity="0.27"/>
<circle cx="1502.4" cy="864.0" r="0.45" fill="#000" opacity="0.24"/>
<circle cx="1479.9" cy="784.7" r="0.62" fill="#000" opacity="0.44"/>
<circle cx="1476.2" cy="779.4" r="0.58" fill="#000" opacity="0.40"/>
<circle cx="1410.2" cy="863.0" r="0.50" fill="#000" opacity="0.48"/>
<circle cx="1427.9" cy="807.9" r="0.63" fill="#000" opacity="0.20"/>
<circle cx="1454.6" cy="770.2" r="0.85" fill="#000" opacity="0.36"/>
<circle cx="1439.1" cy="837.9" r="0.70" fill="#000" opacity="0.22"/>
<circle cx="1484.7" cy="789.1" r="0.66" fill="#000" opacity="0.34"/>
<circle cx="1456.6" cy="877.7" r="0.59" fill="#000" opacity="0.38"/>
<circle cx="1425.4" cy="790.9" r="0.59" fill="#000" opacity="0.18"/>
<circle cx="1497.7" cy="874.3" r="0.56" fill="#000" opacity="0.38"/>
<circle cx="1511.3" cy="846.4" r="0.58" fill="#000" opacity="0.33"/>
<circle cx="1459.6" cy="828.4" r="0.56" fill="#000" opacity="0.23"/>
<circle cx="1512.4" cy="856.6" r="0.54" fill="#000" opacity="0.29"/>
<circle cx="1523.9" cy="771.4" r="0.84" fill="#000" opacity="0.45"/>
<circle cx="1493.5" cy="839.6" r="0.41" fill="#000" opacity="0.39"/>
<circle cx="1441.3" cy="769.0" r="0.61" fill="#000" opacity="0.38"/>
<circle cx="1453.2" cy="771.7" r="0.82" fill="#000" opacity="0.27"/>
<circle cx="1442.3" cy="784.7" r="0.46" fill="#000" opacity="0.47"/>
<circle cx="1458.8" cy="742.7" r="0.42" fill="#000" opacity="0.16"/>
<circle cx="1483.9" cy="838.9" r="0.55" fill="#000" opacity="0.28"/>
<circle cx="1508.2" cy="819.7" r="0.72" fill="#000" opacity="0.21"/>
<circle cx="1497.2" cy="758.6" r="0.76" fill="#000" opacity="0.24"/>
<circle cx="1405.6" cy="834.9" r="0.57" fill="#000" opacity="0.15"/>
<circle cx="1500.6" cy="749.0" r="0.54" fill="#000" opacity="0.17"/>
<circle cx="1502.9" cy="760.2" r="0.42" fill="#000" opacity="0.24"/>
<circle cx="1519.2" cy="854.1" r="0.51" fill="#000" opacity="0.47"/>
<circle cx="1465.4" cy="785.8" r="0.75" fill="#000" opacity="0.29"/>
<circle cx="1464.4" cy="737.2" r="0.54" fill="#000" opacity="0.18"/>
<circle cx="1514.0" cy="792.0" r="0.87" fill="#000" opacity="0.39"/>
<circle cx="1460.4" cy="737.3" r="0.71" fill="#000" opacity="0.31"/>
<circle cx="1527.6" cy="831.1" r="0.61" fill="#000" opacity="0.33"/>
<circle cx="1490.9" cy="796.7" r="0.78" fill="#000" opacity="0.17"/>
<circle cx="1444.8" cy="741.3" r="0.53" fill="#000" opacity="0.34"/>
<circle cx="1527.3" cy="797.0" r="0.67" fill="#000" opacity="0.24"/>
<circle cx="1509.4" cy="826.2" r="0.61" fill="#000" opacity="0.22"/>
<circle cx="1454.7" cy="836.1" r="0.75" fill="#000" opacity="0.38"/>
<circle cx="1468.5" cy="847.7" r="0.66" fill="#000" opacity="0.31"/>
<circle cx="1508.5" cy="790.7" r="0.55" fill="#000" opacity="0.46"/>
<circle cx="1502.7" cy="855.1" r="0.57" fill="#000" opacity="0.44"/>
<circle cx="1399.8" cy="788.5" r="0.48" fill="#000" opacity="0.38"/>
<circle cx="1421.9" cy="777.9" r="0.78" fill="#000" opacity="0.44"/>
<circle cx="1497.4" cy="837.0" r="0.58" fill="#000" opacity="0.22"/>
<circle cx="1504.3" cy="824.5" r="0.50" fill="#000" opacity="0.40"/>
<circle cx="1440.4" cy="817.5" r="0.56" fill="#000" opacity="0.31"/>
<circle cx="1444.4" cy="833.5" r="0.44" fill="#000" opacity="0.15"/>
<circle cx="1533.7" cy="805.6" r="0.44" fill="#000" opacity="0.40"/>
<circle cx="1524.3" cy="801.7" r="0.45" fill="#000" opacity="0.32"/>
<circle cx="1434.0" cy="822.8" r="0.67" fill="#000" opacity="0.15"/>
<circle cx="1520.9" cy="778.3" r="0.71" fill="#000" opacity="0.48"/>
<circle cx="1442.8" cy="776.6" r="0.52" fill="#000" opacity="0.20"/>
<circle cx="1533.9" cy="821.0" r="0.82" fill="#000" opacity="0.25"/>
<circle cx="1490.3" cy="866.9" r="0.82" fill="#000" opacity="0.47"/>
<circle cx="1499.8" cy="869.9" r="0.82" fill="#000" opacity="0.41"/>
<circle cx="1449.8" cy="839.0" r="0.81" fill="#000" opacity="0.26"/>
<circle cx="1425.8" cy="852.1" r="0.58" fill="#000" opacity="0.44"/>
<circle cx="1466.6" cy="825.0" r="0.68" fill="#000" opacity="0.37"/>
<circle cx="1493.6" cy="749.0" r="0.85" fill="#000" opacity="0.48"/>
<circle cx="1409.8" cy="811.0" r="0.48" fill="#000" opacity="0.25"/>
<circle cx="1446.0" cy="798.1" r="0.74" fill="#000" opacity="0.21"/>
<circle cx="1392.7" cy="836.1" r="0.44" fill="#000" opacity="0.16"/>
<circle cx="1433.5" cy="821.8" r="0.76" fill="#000" opacity="0.15"/>
<circle cx="1504.9" cy="747.6" r="0.79" fill="#000" opacity="0.30"/>
<circle cx="1452.2" cy="871.8" r="0.66" fill="#000" opacity="0.30"/>
<circle cx="1437.9" cy="853.3" r="0.73" fill="#000" opacity="0.44"/>
<circle cx="1491.8" cy="790.9" r="0.55" fill="#000" opacity="0.31"/>
<circle cx="1422.6" cy="791.0" r="0.50" fill="#000" opacity="0.18"/>
<circle cx="1441.6" cy="856.9" r="0.89" fill="#000" opacity="0.47"/>
<circle cx="1517.1" cy="750.7" r="0.88" fill="#000" opacity="0.37"/>
<circle cx="1472.7" cy="791.1" r="0.74" fill="#000" opacity="0.36"/>
<circle cx="1448.1" cy="866.0" r="0.88" fill="#000" opacity="0.32"/>
<circle cx="1439.6" cy="774.5" r="0.57" fill="#000" opacity="0.46"/>
<circle cx="1499.3" cy="815.0" r="0.74" fill="#000" opacity="0.31"/>
<circle cx="1520.6" cy="841.7" r="0.59" fill="#000" opacity="0.35"/>
<circle cx="1415.8" cy="837.8" r="0.68" fill="#000" opacity="0.29"/>
<circle cx="1490.7" cy="831.0" r="0.84" fill="#000" opacity="0.34"/>
<circle cx="1521.3" cy="856.5" r="0.53" fill="#000" opacity="0.18"/>
<circle cx="1426.7" cy="801.4" r="0.64" fill="#000" opacity="0.34"/>
<circle cx="1474.3" cy="868.0" r="0.46" fill="#000" opacity="0.33"/>
<circle cx="1446.5" cy="797.2" r="0.60" fill="#000" opacity="0.18"/>
<circle cx="1397.4" cy="836.2" r="0.68" fill="#000" opacity="0.40"/>
<circle cx="1466.7" cy="782.3" r="0.90" fill="#000" opacity="0.40"/>
<circle cx="1523.1" cy="852.0" r="0.60" fill="#000" opacity="0.21"/>
<circle cx="1522.8" cy="794.3" r="0.79" fill="#000" opacity="0.20"/>
<circle cx="1468.6" cy="790.3" r="0.52" fill="#000" opacity="0.28"/>
<circle cx="1526.0" cy="814.8" r="0.51" fill="#000" opacity="0.25"/>
<circle cx="1451.9" cy="759.3" r="0.84" fill="#000" opacity="0.37"/>
<circle cx="1506.6" cy="766.4" r="0.86" fill="#000" opacity="0.45"/>
<circle cx="1499.1" cy="868.3" r="0.57" fill="#000" opacity="0.42"/>
<circle cx="1435.2" cy="744.0" r="0.46" fill="#000" opacity="0.28"/>
<circle cx="1459.4" cy="732.4" r="0.76" fill="#000" opacity="0.17"/>
<circle cx="1445.7" cy="793.9" r="0.67" fill="#000" opacity="0.43"/>
<circle cx="1523.1" cy="858.4" r="0.74" fill="#000" opacity="0.24"/>
<circle cx="1483.9" cy="858.4" r="0.82" fill="#000" opacity="0.35"/>
<circle cx="1474.1" cy="816.5" r="0.46" fill="#000" opacity="0.43"/>
<circle cx="1488.7" cy="862.9" r="0.55" fill="#000" opacity="0.39"/>
<circle cx="1443.6" cy="829.4" r="0.84" fill="#000" opacity="0.34"/>
<circle cx="1439.2" cy="743.1" r="0.87" fill="#000" opacity="0.15"/>
<circle cx="1448.7" cy="834.6" r="0.65" fill="#000" opacity="0.46"/>
<circle cx="1470.1" cy="794.9" r="0.49" fill="#000" opacity="0.44"/>
<circle cx="1444.3" cy="764.3" r="0.64" fill="#000" opacity="0.21"/>
<circle cx="1493.3" cy="768.1" r="0.84" fill="#000" opacity="0.36"/>
<circle cx="1505.7" cy="829.8" r="0.51" fill="#000" opacity="0.46"/>
<circle cx="1451.5" cy="800.2" r="0.48" fill="#000" opacity="0.28"/>
<circle cx="1406.8" cy="821.1" r="0.59" fill="#000" opacity="0.27"/>
<circle cx="1525.5" cy="811.3" r="0.57" fill="#000" opacity="0.16"/>
<circle cx="1389.7" cy="828.8" r="0.42" fill="#000" opacity="0.20"/>
<circle cx="1445.9" cy="772.8" r="0.54" fill="#000" opacity="0.33"/>
<circle cx="1461.0" cy="868.3" r="0.66" fill="#000" opacity="0.48"/>
<circle cx="1480.1" cy="808.3" r="0.68" fill="#000" opacity="0.42"/>
<circle cx="1513.8" cy="759.1" r="0.72" fill="#000" opacity="0.37"/>
<circle cx="1438.2" cy="840.8" r="0.80" fill="#000" opacity="0.46"/>
<circle cx="1525.8" cy="784.5" r="0.55" fill="#000" opacity="0.42"/>
<circle cx="1461.8" cy="752.9" r="0.72" fill="#000" opacity="0.27"/>
<circle cx="1417.8" cy="793.2" r="0.43" fill="#000" opacity="0.27"/>
<circle cx="1430.7" cy="879.3" r="0.64" fill="#000" opacity="0.28"/>
<circle cx="1467.1" cy="847.2" r="0.57" fill="#000" opacity="0.20"/>
<circle cx="1539.0" cy="812.3" r="0.63" fill="#000" opacity="0.31"/>
<circle cx="1426.1" cy="790.8" r="0.48" fill="#000" opacity="0.17"/>
<circle cx="1451.6" cy="850.5" r="0.76" fill="#000" opacity="0.34"/>
<circle cx="1508.0" cy="791.4" r="0.86" fill="#000" opacity="0.35"/>
<circle cx="1494.7" cy="825.1" r="0.69" fill="#000" opacity="0.50"/>
<circle cx="1422.3" cy="863.3" r="0.61" fill="#000" opacity="0.45"/>
<circle cx="1515.5" cy="831.7" r="0.85" fill="#000" opacity="0.25"/>
<circle cx="1464.9" cy="821.0" r="0.48" fill="#000" opacity="0.24"/>
<circle cx="1455.1" cy="773.6" r="0.60" fill="#000" opacity="0.22"/>
<circle cx="1407.0" cy="764.8" r="0.72" fill="#000" opacity="0.22"/>
<circle cx="1457.7" cy="732.0" r="0.70" fill="#000" opacity="0.18"/>
<circle cx="1492.4" cy="740.3" r="0.57" fill="#000" opacity="0.20"/>
<circle cx="1487.4" cy="862.5" r="0.84" fill="#000" opacity="0.37"/>
<circle cx="1497.7" cy="792.1" r="0.56" fill="#000" opacity="0.41"/>
<circle cx="1435.7" cy="768.6" r="0.74" fill="#000" opacity="0.27"/>
<circle cx="1513.0" cy="826.9" r="0.42" fill="#000" opacity="0.37"/>
<circle cx="1437.4" cy="856.8" r="0.70" fill="#000" opacity="0.24"/>
<circle cx="1456.5" cy="811.1" r="0.86" fill="#000" opacity="0.35"/>
<circle cx="1484.1" cy="807.5" r="0.71" fill="#000" opacity="0.40"/>
<circle cx="1454.0" cy="830.2" r="0.48" fill="#000" opacity="0.20"/>
<circle cx="1468.0" cy="785.5" r="0.81" fill="#000" opacity="0.30"/>
<circle cx="1406.8" cy="794.4" r="0.68" fill="#000" opacity="0.38"/>
<circle cx="1429.1" cy="782.0" r="0.77" fill="#000" opacity="0.24"/>
<circle cx="1449.0" cy="742.1" r="0.79" fill="#000" opacity="0.26"/>
<circle cx="1476.5" cy="731.8" r="0.63" fill="#000" opacity="0.25"/>
<circle cx="1389.8" cy="797.8" r="0.47" fill="#000" opacity="0.15"/>
<circle cx="1402.4" cy="818.7" r="0.79" fill="#000" opacity="0.28"/>
<circle cx="1503.1" cy="806.5" r="0.78" fill="#000" opacity="0.18"/>
<circle cx="1493.9" cy="814.0" r="0.43" fill="#000" opacity="0.33"/>
<circle cx="1433.9" cy="797.6" r="0.87" fill="#000" opacity="0.28"/>
<circle cx="1485.1" cy="835.8" r="0.77" fill="#000" opacity="0.47"/>
<circle cx="1472.6" cy="820.4" r="0.79" fill="#000" opacity="0.23"/>
<circle cx="1520.9" cy="802.8" r="0.72" fill="#000" opacity="0.27"/>
<circle cx="1482.2" cy="758.2" r="0.56" fill="#000" opacity="0.47"/>
<circle cx="1518.1" cy="851.3" r="0.43" fill="#000" opacity="0.38"/>
<circle cx="1405.7" cy="851.4" r="0.43" fill="#000" opacity="0.35"/>
<circle cx="1401.7" cy="849.6" r="0.87" fill="#000" opacity="0.37"/>
<circle cx="1471.9" cy="848.1" r="0.53" fill="#000" opacity="0.30"/>
<circle cx="1469.7" cy="844.3" r="0.78" fill="#000" opacity="0.37"/>
<circle cx="1441.9" cy="884.0" r="0.51" fill="#000" opacity="0.35"/>
<circle cx="1506.0" cy="870.1" r="0.83" fill="#000" opacity="0.24"/>
<circle cx="1466.2" cy="737.5" r="0.54" fill="#000" opacity="0.27"/>
<circle cx="1391.4" cy="815.8" r="0.48" fill="#000" opacity="0.39"/>
<circle cx="1422.1" cy="778.4" r="0.69" fill="#000" opacity="0.46"/>
<circle cx="1484.0" cy="880.8" r="0.58" fill="#000" opacity="0.42"/>
<circle cx="1487.5" cy="783.5" r="0.83" fill="#000" opacity="0.50"/>
<circle cx="1461.9" cy="820.8" r="0.46" fill="#000" opacity="0.49"/>
<circle cx="1540.7" cy="813.5" r="0.48" fill="#000" opacity="0.41"/>
<circle cx="1492.0" cy="827.6" r="0.74" fill="#000" opacity="0.18"/>
<circle cx="1425.2" cy="872.9" r="0.76" fill="#000" opacity="0.46"/>
<circle cx="1479.7" cy="807.2" r="0.52" fill="#000" opacity="0.43"/>
<circle cx="1459.8" cy="794.7" r="0.65" fill="#000" opacity="0.23"/>
<circle cx="1442.4" cy="819.8" r="0.41" fill="#000" opacity="0.50"/>
<circle cx="1435.5" cy="876.6" r="0.46" fill="#000" opacity="0.32"/>
<circle cx="1499.4" cy="847.9" r="0.49" fill="#000" opacity="0.39"/>
<circle cx="1506.0" cy="863.3" r="0.65" fill="#000" opacity="0.19"/>
<circle cx="1431.8" cy="853.2" r="0.86" fill="#000" opacity="0.27"/>
<circle cx="1482.4" cy="884.7" r="0.84" fill="#000" opacity="0.41"/>
<circle cx="1460.7" cy="841.9" r="0.53" fill="#000" opacity="0.17"/>
<circle cx="1519.7" cy="824.1" r="0.60" fill="#000" opacity="0.34"/>
<circle cx="1460.2" cy="815.2" r="0.74" fill="#000" opacity="0.38"/>
<circle cx="1409.3" cy="793.1" r="0.75" fill="#000" opacity="0.49"/>
<circle cx="1512.5" cy="761.5" r="0.60" fill="#000" opacity="0.26"/>
<circle cx="1397.5" cy="846.8" r="0.59" fill="#000" opacity="0.28"/>
<circle cx="1440.3" cy="825.0" r="0.90" fill="#000" opacity="0.15"/>
<circle cx="1406.4" cy="761.4" r="0.53" fill="#000" opacity="0.36"/>
<circle cx="1437.8" cy="836.0" r="0.50" fill="#000" opacity="0.19"/>
<circle cx="1504.0" cy="750.8" r="0.85" fill="#000" opacity="0.17"/>
<circle cx="1450.1" cy="766.8" r="0.72" fill="#000" opacity="0.34"/>
<circle cx="1434.3" cy="880.2" r="0.40" fill="#000" opacity="0.41"/>
<circle cx="1499.6" cy="764.2" r="0.70" fill="#000" opacity="0.50"/>
<circle cx="1471.6" cy="871.3" r="0.77" fill="#000" opacity="0.28"/>
<circle cx="1453.8" cy="760.9" r="0.66" fill="#000" opacity="0.36"/>
<circle cx="1445.7" cy="768.8" r="0.71" fill="#000" opacity="0.34"/>
<circle cx="1475.8" cy="869.9" r="0.53" fill="#000" opacity="0.47"/>
<circle cx="1399.4" cy="820.2" r="0.66" fill="#000" opacity="0.32"/>
<circle cx="1470.8" cy="838.2" r="0.86" fill="#000" opacity="0.34"/>
<circle cx="1408.9" cy="800.4" r="0.81" fill="#000" opacity="0.23"/>
<circle cx="1499.0" cy="872.2" r="0.63" fill="#000" opacity="0.37"/>
<circle cx="1500.4" cy="743.1" r="0.83" fill="#000" opacity="0.17"/>
<circle cx="1412.7" cy="857.8" r="0.81" fill="#000" opacity="0.19"/>
<circle cx="1488.0" cy="841.6" r="0.45" fill="#000" opacity="0.27"/>
<circle cx="1484.2" cy="755.2" r="0.63" fill="#000" opacity="0.18"/>
<circle cx="1403.1" cy="857.1" r="0.75" fill="#000" opacity="0.31"/>
<circle cx="1397.1" cy="818.4" r="1.26" fill="#000" opacity="0.57"/>
<circle cx="1445.6" cy="766.6" r="1.11" fill="#000" opacity="0.61"/>
<circle cx="1434.5" cy="841.7" r="1.03" fill="#000" opacity="0.51"/>
<circle cx="1483.2" cy="864.6" r="0.83" fill="#000" opacity="0.58"/>
<circle cx="1457.5" cy="769.3" r="0.99" fill="#000" opacity="0.61"/>
<circle cx="1477.3" cy="788.8" r="1.18" fill="#000" opacity="0.89"/>
<circle cx="1480.5" cy="857.0" r="1.28" fill="#000" opacity="0.78"/>
<circle cx="1454.3" cy="820.7" r="1.07" fill="#000" opacity="0.67"/>
<circle cx="1455.7" cy="768.2" r="1.04" fill="#000" opacity="0.79"/>
<circle cx="1482.6" cy="766.5" r="1.03" fill="#000" opacity="0.76"/>
<circle cx="1495.6" cy="793.6" r="1.38" fill="#000" opacity="0.82"/>
<circle cx="1421.7" cy="854.3" r="1.00" fill="#000" opacity="0.53"/>
<circle cx="1467.3" cy="761.4" r="1.12" fill="#000" opacity="0.72"/>
<circle cx="1520.2" cy="769.9" r="0.82" fill="#000" opacity="0.77"/>
<circle cx="1414.4" cy="821.2" r="1.30" fill="#000" opacity="0.69"/>
<circle cx="1393.6" cy="821.0" r="1.06" fill="#000" opacity="0.72"/>
<circle cx="1395.5" cy="803.8" r="1.20" fill="#000" opacity="0.83"/>
<circle cx="1452.8" cy="818.0" r="1.21" fill="#000" opacity="0.75"/>
<circle cx="1473.7" cy="741.7" r="0.87" fill="#000" opacity="0.60"/>
<circle cx="1527.3" cy="841.5" r="0.86" fill="#000" opacity="0.54"/>
<circle cx="1466.7" cy="751.0" r="0.83" fill="#000" opacity="0.81"/>
<circle cx="1452.5" cy="756.9" r="0.83" fill="#000" opacity="0.81"/>
<circle cx="1414.1" cy="838.1" r="1.40" fill="#000" opacity="0.87"/>
<circle cx="1485.9" cy="787.8" r="1.00" fill="#000" opacity="0.73"/>
<circle cx="1542.3" cy="811.9" r="0.96" fill="#000" opacity="0.62"/>
<circle cx="1522.2" cy="765.3" r="2.86" fill="#080808" opacity="1"/>
<circle cx="1535.5" cy="768.9" r="1.91" fill="#080808" opacity="1"/>
<circle cx="1539.9" cy="779.4" r="0.95" fill="#080808" opacity="0.8"/>
<circle cx="1450.4" cy="769.7" r="2.67" fill="#080808" opacity="1"/>
<circle cx="1404.2" cy="751.6" r="2.29" fill="#080808" opacity="1"/>
<circle cx="1452.5" cy="725.1" r="1.34" fill="#080808" opacity="1"/>
<circle cx="1425.3" cy="795.9" r="2.67" fill="#080808" opacity="1"/>
<circle cx="1418.3" cy="789.4" r="1.15" fill="#080808" opacity="0.8"/>
<circle cx="1448.4" cy="793.5" r="1.91" fill="#080808" opacity="1"/>
<circle cx="1453.1" cy="801.1" r="1.15" fill="#080808" opacity="0.8"/>
<circle cx="1482.6" cy="801.1" r="1.53" fill="#080808" opacity="1"/>
<circle cx="1476.2" cy="801.9" r="0.95" fill="#080808" opacity="0.8"/>
<circle cx="1386.1" cy="798.5" r="2.10" fill="#080808" opacity="1"/>
<circle cx="1401.8" cy="821.2" r="2.10" fill="#080808" opacity="1"/>
<circle cx="1516.8" cy="818.6" r="2.86" fill="#080808" opacity="1"/>
<circle cx="1503.7" cy="828.6" r="2.48" fill="#080808" opacity="1"/>
<circle cx="1530.3" cy="835.3" r="1.15" fill="#080808" opacity="0.8"/>
<circle cx="1530.3" cy="852.8" r="0.95" fill="#080808" opacity="0.8"/>
<circle cx="1424.7" cy="836.7" r="2.48" fill="#080808" opacity="1"/>
<circle cx="1396.8" cy="842.7" r="2.67" fill="#080808" opacity="1"/>
<circle cx="1422.3" cy="848.1" r="2.48" fill="#080808" opacity="1"/>
<circle cx="1404.8" cy="858.2" r="2.10" fill="#080808" opacity="1"/>
<circle cx="1412.8" cy="865.8" r="1.91" fill="#080808" opacity="1"/>
<circle cx="1438.4" cy="865.2" r="2.48" fill="#080808" opacity="1"/>
<circle cx="1447.4" cy="864.2" r="2.29" fill="#080808" opacity="1"/>
<circle cx="1437.4" cy="878.9" r="2.86" fill="#080808" opacity="1"/>
<circle cx="1426.3" cy="876.3" r="1.15" fill="#080808" opacity="0.8"/>
<circle cx="1483.2" cy="877.9" r="2.29" fill="#080808" opacity="1"/>
<circle cx="1461.5" cy="849.8" r="1.72" fill="#080808" opacity="1"/>
<circle cx="1502.7" cy="841.7" r="1.34" fill="#080808" opacity="1"/>
<circle cx="1495.7" cy="851.4" r="1.15" fill="#080808" opacity="0.8"/>
<circle cx="1501.7" cy="850.8" r="0.95" fill="#080808" opacity="0.8"/>
<circle cx="1489.6" cy="855.8" r="0.95" fill="#080808" opacity="0.8"/>
<circle cx="1452.5" cy="842.7" r="0.95" fill="#080808" opacity="0.8"/>
<circle cx="1433.4" cy="825.6" r="1.15" fill="#080808" opacity="0.8"/>
<circle cx="1433.4" cy="763.3" r="0.95" fill="#080808" opacity="0.8"/>
<circle cx="1497.7" cy="767.3" r="0.95" fill="#080808" opacity="0.8"/>
<circle cx="1473.6" cy="871.9" r="0.95" fill="#080808" opacity="0.8"/>
<circle cx="1491.7" cy="881.9" r="1.15" fill="#080808" opacity="0.8"/>
<circle cx="1453.5" cy="884.9" r="0.76" fill="#080808" opacity="0.8"/>
<circle cx="1422.3" cy="856.8" r="0.95" fill="#080808" opacity="0.8"/>
<circle cx="1430.3" cy="859.8" r="0.95" fill="#080808" opacity="0.8"/>
<circle cx="1507.3" cy="799.5" r="0.95" fill="#080808" opacity="0.8"/>
<circle cx="1508.7" cy="809.5" r="0.95" fill="#080808" opacity="0.8"/></g>
<g filter="url(#blur)"><ellipse cx="1648.0" cy="808.5" rx="89.8" ry="86.5" fill="url(#glid)"/>
<rect x="1555.7" y="802.5" width="5" height="11" fill="#ededed"/>
<rect x="1735.3" y="802.5" width="5" height="11" fill="#ededed"/>
<path d="M1570.7 773.8 A85.3 82.0 0 0 1 1670.1 729.3" fill="none" stroke="#c4c4c4" stroke-width="3.2" stroke-linecap="round" opacity="0.85"/>
<path d="M1704.8 873.6 A88.3 85.0 0 0 1 1603.8 882.1" fill="none" stroke="#d6d6d6" stroke-width="2.0" stroke-linecap="round" opacity="1"/>
<path d="M1678.4 728.0 A89.0 85.7 0 0 1 1716.2 863.6" fill="none" stroke="#e4e4e4" stroke-width="1.4" stroke-linecap="round" opacity="1"/>
<circle cx="1633.1" cy="844.2" r="0.83" fill="#000" opacity="0.34"/>
<circle cx="1598.4" cy="805.1" r="0.43" fill="#000" opacity="0.26"/>
<circle cx="1694.0" cy="757.5" r="0.83" fill="#000" opacity="0.24"/>
<circle cx="1653.2" cy="825.2" r="0.67" fill="#000" opacity="0.28"/>
<circle cx="1595.7" cy="820.4" r="0.69" fill="#000" opacity="0.28"/>
<circle cx="1658.9" cy="776.0" r="0.86" fill="#000" opacity="0.34"/>
<circle cx="1688.8" cy="822.1" r="0.67" fill="#000" opacity="0.29"/>
<circle cx="1608.0" cy="791.2" r="0.54" fill="#000" opacity="0.43"/>
<circle cx="1631.3" cy="870.9" r="0.80" fill="#000" opacity="0.36"/>
<circle cx="1576.9" cy="829.3" r="0.62" fill="#000" opacity="0.46"/>
<circle cx="1695.2" cy="826.4" r="0.72" fill="#000" opacity="0.17"/>
<circle cx="1661.4" cy="792.9" r="0.70" fill="#000" opacity="0.21"/>
<circle cx="1698.7" cy="781.6" r="0.80" fill="#000" opacity="0.32"/>
<circle cx="1619.0" cy="752.6" r="0.55" fill="#000" opacity="0.22"/>
<circle cx="1663.4" cy="783.6" r="0.86" fill="#000" opacity="0.22"/>
<circle cx="1667.1" cy="822.5" r="0.79" fill="#000" opacity="0.48"/>
<circle cx="1594.5" cy="840.3" r="0.53" fill="#000" opacity="0.47"/>
<circle cx="1636.2" cy="780.7" r="0.43" fill="#000" opacity="0.39"/>
<circle cx="1715.7" cy="826.7" r="0.55" fill="#000" opacity="0.23"/>
<circle cx="1610.3" cy="787.2" r="0.68" fill="#000" opacity="0.20"/>
<circle cx="1685.1" cy="785.5" r="0.82" fill="#000" opacity="0.20"/>
<circle cx="1671.2" cy="736.2" r="0.60" fill="#000" opacity="0.16"/>
<circle cx="1603.3" cy="850.5" r="0.51" fill="#000" opacity="0.34"/>
<circle cx="1691.5" cy="837.5" r="0.76" fill="#000" opacity="0.30"/>
<circle cx="1636.8" cy="785.1" r="0.81" fill="#000" opacity="0.19"/>
<circle cx="1715.8" cy="773.0" r="0.87" fill="#000" opacity="0.33"/>
<circle cx="1636.5" cy="852.2" r="0.78" fill="#000" opacity="0.32"/>
<circle cx="1669.1" cy="798.5" r="0.64" fill="#000" opacity="0.45"/>
<circle cx="1601.9" cy="776.0" r="0.44" fill="#000" opacity="0.20"/>
<circle cx="1638.4" cy="880.3" r="0.82" fill="#000" opacity="0.23"/>
<circle cx="1660.3" cy="802.2" r="0.70" fill="#000" opacity="0.49"/>
<circle cx="1606.4" cy="870.3" r="0.73" fill="#000" opacity="0.17"/>
<circle cx="1622.4" cy="853.0" r="0.52" fill="#000" opacity="0.41"/>
<circle cx="1677.4" cy="869.8" r="0.55" fill="#000" opacity="0.17"/>
<circle cx="1625.9" cy="799.9" r="0.68" fill="#000" opacity="0.43"/>
<circle cx="1605.0" cy="779.1" r="0.42" fill="#000" opacity="0.33"/>
<circle cx="1698.5" cy="843.9" r="0.47" fill="#000" opacity="0.35"/>
<circle cx="1619.7" cy="846.0" r="0.73" fill="#000" opacity="0.21"/>
<circle cx="1684.0" cy="873.6" r="0.57" fill="#000" opacity="0.44"/>
<circle cx="1685.2" cy="770.6" r="0.47" fill="#000" opacity="0.18"/>
<circle cx="1667.0" cy="790.4" r="0.65" fill="#000" opacity="0.34"/>
<circle cx="1686.8" cy="843.8" r="0.48" fill="#000" opacity="0.34"/>
<circle cx="1601.6" cy="806.5" r="0.50" fill="#000" opacity="0.29"/>
<circle cx="1655.9" cy="834.7" r="0.52" fill="#000" opacity="0.46"/>
<circle cx="1575.7" cy="807.7" r="0.41" fill="#000" opacity="0.48"/>
<circle cx="1580.0" cy="813.5" r="0.69" fill="#000" opacity="0.39"/>
<circle cx="1656.6" cy="874.3" r="0.48" fill="#000" opacity="0.24"/>
<circle cx="1695.2" cy="817.8" r="0.66" fill="#000" opacity="0.25"/>
<circle cx="1665.2" cy="794.4" r="0.69" fill="#000" opacity="0.23"/>
<circle cx="1591.9" cy="770.2" r="0.76" fill="#000" opacity="0.17"/>
<circle cx="1649.6" cy="867.8" r="0.89" fill="#000" opacity="0.16"/>
<circle cx="1601.0" cy="765.4" r="0.81" fill="#000" opacity="0.27"/>
<circle cx="1667.3" cy="760.1" r="0.86" fill="#000" opacity="0.15"/>
<circle cx="1693.8" cy="790.5" r="0.60" fill="#000" opacity="0.18"/>
<circle cx="1650.1" cy="874.1" r="0.74" fill="#000" opacity="0.20"/>
<circle cx="1632.0" cy="832.3" r="0.50" fill="#000" opacity="0.23"/>
<circle cx="1611.1" cy="874.6" r="0.90" fill="#000" opacity="0.43"/>
<circle cx="1594.4" cy="815.4" r="0.79" fill="#000" opacity="0.47"/>
<circle cx="1648.6" cy="747.4" r="0.50" fill="#000" opacity="0.37"/>
<circle cx="1686.5" cy="752.4" r="0.45" fill="#000" opacity="0.40"/>
<circle cx="1630.0" cy="833.6" r="0.88" fill="#000" opacity="0.39"/>
<circle cx="1647.2" cy="780.4" r="0.81" fill="#000" opacity="0.48"/>
<circle cx="1702.7" cy="771.2" r="0.82" fill="#000" opacity="0.43"/>
<circle cx="1605.4" cy="781.3" r="0.81" fill="#000" opacity="0.42"/>
<circle cx="1676.8" cy="778.1" r="0.88" fill="#000" opacity="0.34"/>
<circle cx="1672.6" cy="799.8" r="0.88" fill="#000" opacity="0.43"/>
<circle cx="1647.1" cy="878.7" r="0.52" fill="#000" opacity="0.22"/>
<circle cx="1612.0" cy="818.2" r="0.65" fill="#000" opacity="0.47"/>
<circle cx="1622.5" cy="749.2" r="0.60" fill="#000" opacity="0.42"/>
<circle cx="1665.2" cy="747.5" r="0.87" fill="#000" opacity="0.44"/>
<circle cx="1629.2" cy="821.1" r="0.73" fill="#000" opacity="0.44"/>
<circle cx="1616.4" cy="858.5" r="0.82" fill="#000" opacity="0.43"/>
<circle cx="1701.6" cy="810.0" r="0.41" fill="#000" opacity="0.19"/>
<circle cx="1666.9" cy="762.7" r="0.70" fill="#000" opacity="0.31"/>
<circle cx="1629.9" cy="838.9" r="0.58" fill="#000" opacity="0.45"/>
<circle cx="1617.7" cy="780.3" r="0.44" fill="#000" opacity="0.24"/>
<circle cx="1632.6" cy="759.9" r="0.73" fill="#000" opacity="0.43"/>
<circle cx="1694.0" cy="852.1" r="0.42" fill="#000" opacity="0.44"/>
<circle cx="1664.1" cy="845.1" r="0.88" fill="#000" opacity="0.28"/>
<circle cx="1659.7" cy="879.9" r="0.71" fill="#000" opacity="0.46"/>
<circle cx="1605.3" cy="841.9" r="0.88" fill="#000" opacity="0.33"/>
<circle cx="1681.3" cy="806.1" r="0.82" fill="#000" opacity="0.21"/>
<circle cx="1646.6" cy="808.3" r="0.49" fill="#000" opacity="0.48"/>
<circle cx="1581.8" cy="827.9" r="0.53" fill="#000" opacity="0.27"/>
<circle cx="1693.9" cy="842.3" r="0.83" fill="#000" opacity="0.33"/>
<circle cx="1595.2" cy="860.2" r="0.85" fill="#000" opacity="0.38"/>
<circle cx="1701.8" cy="836.3" r="0.62" fill="#000" opacity="0.49"/>
<circle cx="1607.7" cy="856.1" r="0.72" fill="#000" opacity="0.28"/>
<circle cx="1585.6" cy="799.7" r="0.85" fill="#000" opacity="0.32"/>
<circle cx="1598.4" cy="865.7" r="0.43" fill="#000" opacity="0.44"/>
<circle cx="1625.3" cy="757.3" r="1.07" fill="#000" opacity="0.84"/>
<circle cx="1697.7" cy="768.0" r="1.25" fill="#000" opacity="0.52"/>
<circle cx="1635.4" cy="833.2" r="1.37" fill="#000" opacity="0.90"/>
<circle cx="1655.5" cy="797.1" r="2.48" fill="#080808" opacity="1"/>
<circle cx="1645.5" cy="753.7" r="1.91" fill="#080808" opacity="1"/>
<circle cx="1620.8" cy="773.4" r="1.91" fill="#080808" opacity="1"/>
<circle cx="1707.4" cy="757.7" r="1.72" fill="#080808" opacity="1"/>
<circle cx="1629.4" cy="726.7" r="1.72" fill="#080808" opacity="1"/>
<circle cx="1613.9" cy="738.2" r="1.15" fill="#080808" opacity="0.8"/>
<circle cx="1678.3" cy="827.2" r="1.53" fill="#080808" opacity="1"/>
<circle cx="1596.2" cy="827.2" r="1.53" fill="#080808" opacity="1"/>
<circle cx="1577.1" cy="777.8" r="0.95" fill="#080808" opacity="0.8"/>
<circle cx="1571.7" cy="815.2" r="0.95" fill="#080808" opacity="0.8"/>
<circle cx="1577.1" cy="839.3" r="1.15" fill="#080808" opacity="0.8"/>
<circle cx="1594.2" cy="864.8" r="1.72" fill="#080808" opacity="1"/>
<circle cx="1624.8" cy="848.1" r="0.95" fill="#080808" opacity="0.8"/>
<circle cx="1628.4" cy="853.4" r="0.76" fill="#080808" opacity="0.8"/>
<circle cx="1626.8" cy="864.2" r="1.34" fill="#080808" opacity="1"/>
<circle cx="1622.4" cy="882.9" r="1.15" fill="#080808" opacity="0.8"/>
<circle cx="1649.9" cy="824.6" r="0.76" fill="#080808" opacity="0.8"/>
<circle cx="1646.9" cy="829.0" r="0.76" fill="#080808" opacity="0.8"/>
<circle cx="1602.7" cy="787.0" r="0.76" fill="#080808" opacity="0.8"/>
<circle cx="1735.0" cy="803.5" r="0.95" fill="#080808" opacity="0.8"/></g>
</g>
</svg>
</body></html>
